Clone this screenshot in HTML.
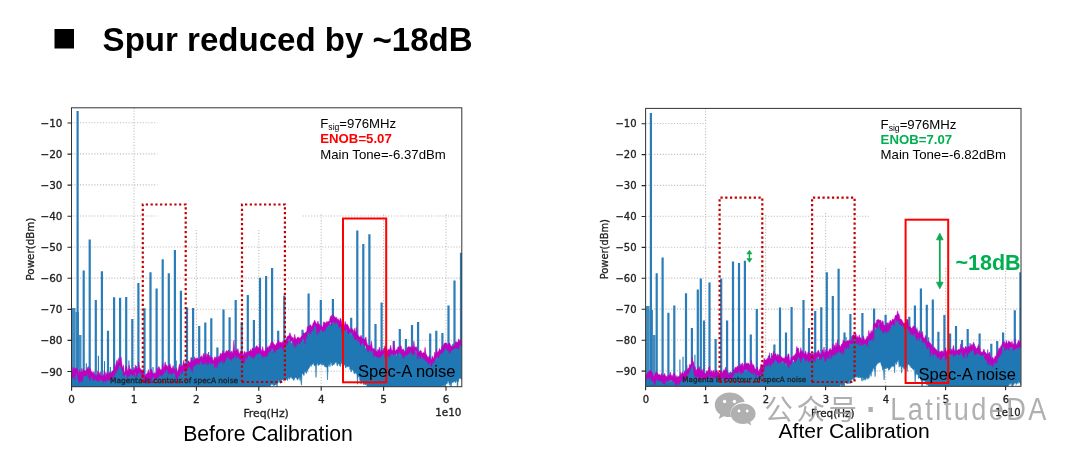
<!DOCTYPE html>
<html lang="en"><head><meta charset="utf-8"><title>Spur reduced by ~18dB</title>
<style>
html,body{margin:0;padding:0;background:#fff;}
body{width:1080px;height:453px;overflow:hidden;position:relative;font-family:"Liberation Sans",sans-serif;}
svg{position:absolute;left:0;top:0;}
.dj{font-family:"DejaVu Sans","Liberation Sans",sans-serif;font-size:9.7px;fill:#222;stroke:#222;stroke-width:0.3px;}
.ar{font-family:"Liberation Sans",sans-serif;fill:#000;}
</style></head><body>
<svg width="1080" height="453" viewBox="0 0 1080 453">
<rect width="1080" height="453" fill="#fff"/>
<defs></defs>
<rect x="54.5" y="29" width="19.5" height="19.5" fill="#000"/>
<text class="ar" x="102.6" y="50.8" style="font-size:33.05px;font-weight:bold">Spur reduced by ~18dB</text>
<clipPath id="clip1"><rect x="71.5" y="107.8" width="390.3" height="278.9"/></clipPath>
<g stroke="#bdbdbd" stroke-width="1.1" stroke-dasharray="1.1 1.75" fill="none"><line x1="71.5" y1="122.8" x2="157.3" y2="122.8"/><line x1="71.5" y1="153.9" x2="157.3" y2="153.9"/><line x1="71.5" y1="184.9" x2="157.3" y2="184.9"/><line x1="71.5" y1="216.0" x2="157.3" y2="216.0"/><line x1="302.6" y1="216.0" x2="461.8" y2="216.0"/><line x1="71.5" y1="247.0" x2="461.8" y2="247.0"/><line x1="71.5" y1="278.1" x2="461.8" y2="278.1"/><line x1="71.5" y1="309.2" x2="461.8" y2="309.2"/><line x1="71.5" y1="340.2" x2="461.8" y2="340.2"/><line x1="71.5" y1="371.3" x2="461.8" y2="371.3"/><line x1="134.0" y1="107.8" x2="134.0" y2="386.7"/><line x1="196.4" y1="230" x2="196.4" y2="386.7"/><line x1="258.8" y1="230" x2="258.8" y2="386.7"/><line x1="321.2" y1="214.6" x2="321.2" y2="386.7"/><line x1="383.6" y1="214.6" x2="383.6" y2="386.7"/><line x1="446.0" y1="214.6" x2="446.0" y2="386.7"/></g>
<g clip-path="url(#clip1)">
<path d="M71.5,378.0 L72.0,376.4 L72.5,376.9 L73.0,376.0 L73.5,375.0 L74.0,373.3 L74.5,372.6 L75.0,371.8 L75.5,369.8 L76.0,369.0 L76.5,369.7 L77.0,372.9 L77.5,374.8 L78.0,376.6 L78.5,377.6 L79.0,378.2 L79.5,378.6 L80.0,377.6 L80.5,377.9 L81.0,375.6 L81.5,375.4 L82.0,373.2 L82.5,372.2 L83.0,371.2 L83.5,371.4 L84.0,372.6 L84.5,374.1 L85.0,373.7 L85.5,372.7 L86.0,370.6 L86.5,371.2 L87.0,371.1 L87.5,371.3 L88.0,371.9 L88.5,372.9 L89.0,372.7 L89.5,372.6 L90.0,372.7 L90.5,373.1 L91.0,373.8 L91.5,373.6 L92.0,375.7 L92.5,376.1 L93.0,377.3 L93.5,376.2 L94.0,376.0 L94.5,374.5 L95.0,374.2 L95.5,374.6 L96.0,374.6 L96.5,376.2 L97.0,374.7 L97.5,377.0 L98.0,375.8 L98.5,377.9 L99.0,377.5 L99.5,377.0 L100.0,377.5 L100.5,378.6 L101.0,379.8 L101.5,378.8 L102.0,377.6 L102.5,377.1 L103.0,378.3 L103.5,378.2 L104.0,379.1 L104.5,377.8 L105.0,377.9 L105.5,377.2 L106.0,378.9 L106.5,379.5 L107.0,381.4 L107.5,380.6 L108.0,379.8 L108.5,378.3 L109.0,377.3 L109.5,377.3 L110.0,376.8 L110.5,376.5 L111.0,374.9 L111.5,374.0 L112.0,375.0 L112.5,375.1 L113.0,374.3 L113.5,372.6 L114.0,373.5 L114.5,372.4 L115.0,371.3 L115.5,369.0 L116.0,368.0 L116.5,368.0 L117.0,367.7 L117.5,368.4 L118.0,366.6 L118.5,366.2 L119.0,365.0 L119.5,364.7 L120.0,362.8 L120.5,361.5 L121.0,363.7 L121.5,365.7 L122.0,368.4 L122.5,368.8 L123.0,370.4 L123.5,371.2 L124.0,373.3 L124.5,374.2 L125.0,374.4 L125.5,373.8 L126.0,374.8 L126.5,375.3 L127.0,375.5 L127.5,374.0 L128.0,372.3 L128.5,372.6 L129.0,373.6 L129.5,374.5 L130.0,374.0 L130.5,373.8 L131.0,374.4 L131.5,374.5 L132.0,373.5 L132.5,373.9 L133.0,372.1 L133.5,373.0 L134.0,372.0 L134.5,373.6 L135.0,374.2 L135.5,374.9 L136.0,373.2 L136.5,370.3 L137.0,369.6 L137.5,369.6 L138.0,370.8 L138.5,370.7 L139.0,370.1 L139.5,369.0 L140.0,369.1 L140.5,371.0 L141.0,373.0 L141.5,373.3 L142.0,373.2 L142.5,372.8 L143.0,373.2 L143.5,373.6 L144.0,374.1 L144.5,375.1 L145.0,376.0 L145.5,377.5 L146.0,376.2 L146.5,375.6 L147.0,374.4 L147.5,374.3 L148.0,374.9 L148.5,374.9 L149.0,375.8 L149.5,375.8 L150.0,377.8 L150.5,376.3 L151.0,376.6 L151.5,374.9 L152.0,375.8 L152.5,373.9 L153.0,373.5 L153.5,373.9 L154.0,374.9 L154.5,375.2 L155.0,374.2 L155.5,375.1 L156.0,374.9 L156.5,373.3 L157.0,371.7 L157.5,370.1 L158.0,369.1 L158.5,369.0 L159.0,371.3 L159.5,373.6 L160.0,372.8 L160.5,370.8 L161.0,371.4 L161.5,372.2 L162.0,372.7 L162.5,371.5 L163.0,371.2 L163.5,371.5 L164.0,371.8 L164.5,371.6 L165.0,370.0 L165.5,369.7 L166.0,368.7 L166.5,370.2 L167.0,368.5 L167.5,368.7 L168.0,367.6 L168.5,367.3 L169.0,368.7 L169.5,370.2 L170.0,371.1 L170.5,370.7 L171.0,370.2 L171.5,368.8 L172.0,368.8 L172.5,368.7 L173.0,371.1 L173.5,370.4 L174.0,370.6 L174.5,370.7 L175.0,372.7 L175.5,373.5 L176.0,373.9 L176.5,374.2 L177.0,373.2 L177.5,372.6 L178.0,369.7 L178.5,371.0 L179.0,371.8 L179.5,373.6 L180.0,372.6 L180.5,371.6 L181.0,370.8 L181.5,369.8 L182.0,369.2 L182.5,368.8 L183.0,369.9 L183.5,370.1 L184.0,369.8 L184.5,367.8 L185.0,366.6 L185.5,367.6 L186.0,368.1 L186.5,368.4 L187.0,366.6 L187.5,365.0 L188.0,364.6 L188.5,365.3 L189.0,365.6 L189.5,365.1 L190.0,364.0 L190.5,364.1 L191.0,362.7 L191.5,362.4 L192.0,361.4 L192.5,363.0 L193.0,362.3 L193.5,363.1 L194.0,363.3 L194.5,363.4 L195.0,362.2 L195.5,361.0 L196.0,361.1 L196.5,360.6 L197.0,360.7 L197.5,362.1 L198.0,362.5 L198.5,361.8 L199.0,359.3 L199.5,359.6 L200.0,358.6 L200.5,358.4 L201.0,359.0 L201.5,359.1 L202.0,360.6 L202.5,360.6 L203.0,361.4 L203.5,360.8 L204.0,361.0 L204.5,360.4 L205.0,359.4 L205.5,356.7 L206.0,356.8 L206.5,358.7 L207.0,360.8 L207.5,360.4 L208.0,358.9 L208.5,358.0 L209.0,359.3 L209.5,360.1 L210.0,361.0 L210.5,361.3 L211.0,361.5 L211.5,361.6 L212.0,361.9 L212.5,362.4 L213.0,363.1 L213.5,364.5 L214.0,364.7 L214.5,364.0 L215.0,361.0 L215.5,360.5 L216.0,358.7 L216.5,358.6 L217.0,358.7 L217.5,360.4 L218.0,361.1 L218.5,358.8 L219.0,357.7 L219.5,357.0 L220.0,358.5 L220.5,360.3 L221.0,360.7 L221.5,359.3 L222.0,356.3 L222.5,355.8 L223.0,356.1 L223.5,356.0 L224.0,356.1 L224.5,355.2 L225.0,356.8 L225.5,357.5 L226.0,359.1 L226.5,357.7 L227.0,357.2 L227.5,356.2 L228.0,356.1 L228.5,355.4 L229.0,354.3 L229.5,353.4 L230.0,354.2 L230.5,354.9 L231.0,356.1 L231.5,356.2 L232.0,354.9 L232.5,354.0 L233.0,353.2 L233.5,354.8 L234.0,355.0 L234.5,355.5 L235.0,355.3 L235.5,354.5 L236.0,353.2 L236.5,353.8 L237.0,355.3 L237.5,354.8 L238.0,355.4 L238.5,355.7 L239.0,358.4 L239.5,357.2 L240.0,356.7 L240.5,355.0 L241.0,357.4 L241.5,357.7 L242.0,360.0 L242.5,357.7 L243.0,358.2 L243.5,355.3 L244.0,355.2 L244.5,355.5 L245.0,355.5 L245.5,356.3 L246.0,355.5 L246.5,355.3 L247.0,353.8 L247.5,352.8 L248.0,353.3 L248.5,352.9 L249.0,352.3 L249.5,351.8 L250.0,351.1 L250.5,350.5 L251.0,350.6 L251.5,351.9 L252.0,351.7 L252.5,351.6 L253.0,350.3 L253.5,350.7 L254.0,351.2 L254.5,351.2 L255.0,353.1 L255.5,351.7 L256.0,352.3 L256.5,350.9 L257.0,350.8 L257.5,350.9 L258.0,350.8 L258.5,351.8 L259.0,351.2 L259.5,350.4 L260.0,350.5 L260.5,351.3 L261.0,353.7 L261.5,353.8 L262.0,354.5 L262.5,352.1 L263.0,353.1 L263.5,351.9 L264.0,351.6 L264.5,350.7 L265.0,352.1 L265.5,352.1 L266.0,351.0 L266.5,349.2 L267.0,349.3 L267.5,350.1 L268.0,349.7 L268.5,349.8 L269.0,349.6 L269.5,349.4 L270.0,350.0 L270.5,348.5 L271.0,347.8 L271.5,345.8 L272.0,347.7 L272.5,348.1 L273.0,349.4 L273.5,347.8 L274.0,348.1 L274.5,347.8 L275.0,349.2 L275.5,348.2 L276.0,346.9 L276.5,344.5 L277.0,344.2 L277.5,345.9 L278.0,347.2 L278.5,347.4 L279.0,345.6 L279.5,344.6 L280.0,346.3 L280.5,345.1 L281.0,345.7 L281.5,343.7 L282.0,346.6 L282.5,345.2 L283.0,345.4 L283.5,343.0 L284.0,342.7 L284.5,343.7 L285.0,345.1 L285.5,345.2 L286.0,343.0 L286.5,340.5 L287.0,340.2 L287.5,340.4 L288.0,341.5 L288.5,341.3 L289.0,340.1 L289.5,339.7 L290.0,339.6 L290.5,341.6 L291.0,343.3 L291.5,343.4 L292.0,341.9 L292.5,340.6 L293.0,340.4 L293.5,340.6 L294.0,340.7 L294.5,340.6 L295.0,341.8 L295.5,341.9 L296.0,343.0 L296.5,342.6 L297.0,342.3 L297.5,341.5 L298.0,341.6 L298.5,341.9 L299.0,343.0 L299.5,342.5 L300.0,341.3 L300.5,340.5 L301.0,338.9 L301.5,338.8 L302.0,337.9 L302.5,336.7 L303.0,336.6 L303.5,336.3 L304.0,337.2 L304.5,336.2 L305.0,335.1 L305.5,333.9 L306.0,333.4 L306.5,332.6 L307.0,332.8 L307.5,331.5 L308.0,331.4 L308.5,330.8 L309.0,331.0 L309.5,329.9 L310.0,329.6 L310.5,327.8 L311.0,327.8 L311.5,327.0 L312.0,327.9 L312.5,327.2 L313.0,325.8 L313.5,324.8 L314.0,324.5 L314.5,325.6 L315.0,326.3 L315.5,324.8 L316.0,325.2 L316.5,326.2 L317.0,328.4 L317.5,328.4 L318.0,326.6 L318.5,326.8 L319.0,326.7 L319.5,326.2 L320.0,326.1 L320.5,325.3 L321.0,326.5 L321.5,326.0 L322.0,328.4 L322.5,329.3 L323.0,330.3 L323.5,330.2 L324.0,331.3 L324.5,330.6 L325.0,328.6 L325.5,325.9 L326.0,325.0 L326.5,325.1 L327.0,325.9 L327.5,326.1 L328.0,326.1 L328.5,324.7 L329.0,324.2 L329.5,323.5 L330.0,324.1 L330.5,324.5 L331.0,323.8 L331.5,322.7 L332.0,321.7 L332.5,320.2 L333.0,318.7 L333.5,318.6 L334.0,319.7 L334.5,321.5 L335.0,320.1 L335.5,320.3 L336.0,319.9 L336.5,320.9 L337.0,319.8 L337.5,320.4 L338.0,322.1 L338.5,324.5 L339.0,324.6 L339.5,324.3 L340.0,324.9 L340.5,323.6 L341.0,323.8 L341.5,323.9 L342.0,326.9 L342.5,328.6 L343.0,329.4 L343.5,329.4 L344.0,328.6 L344.5,328.6 L345.0,328.3 L345.5,328.3 L346.0,328.7 L346.5,331.0 L347.0,331.2 L347.5,330.7 L348.0,329.7 L348.5,331.2 L349.0,331.5 L349.5,332.8 L350.0,331.4 L350.5,331.6 L351.0,330.6 L351.5,332.3 L352.0,333.6 L352.5,333.0 L353.0,332.0 L353.5,331.8 L354.0,332.8 L354.5,332.7 L355.0,333.6 L355.5,334.8 L356.0,336.7 L356.5,335.9 L357.0,336.6 L357.5,336.4 L358.0,338.0 L358.5,336.9 L359.0,337.0 L359.5,336.8 L360.0,337.5 L360.5,339.3 L361.0,339.9 L361.5,340.3 L362.0,340.4 L362.5,340.5 L363.0,342.5 L363.5,342.5 L364.0,343.0 L364.5,343.7 L365.0,346.5 L365.5,349.0 L366.0,348.6 L366.5,347.5 L367.0,347.6 L367.5,347.9 L368.0,347.5 L368.5,346.8 L369.0,347.7 L369.5,348.3 L370.0,347.4 L370.5,346.4 L371.0,348.0 L371.5,349.2 L372.0,350.6 L372.5,350.7 L373.0,352.3 L373.5,352.6 L374.0,353.2 L374.5,352.5 L375.0,353.0 L375.5,352.3 L376.0,354.3 L376.5,355.0 L377.0,355.5 L377.5,354.1 L378.0,353.7 L378.5,354.6 L379.0,353.4 L379.5,352.5 L380.0,351.4 L380.5,354.3 L381.0,355.6 L381.5,355.6 L382.0,353.9 L382.5,354.5 L383.0,354.1 L383.5,353.0 L384.0,352.1 L384.5,352.6 L385.0,353.4 L385.5,352.2 L386.0,353.3 L386.5,354.2 L387.0,355.1 L387.5,354.2 L388.0,351.4 L388.5,351.5 L389.0,350.9 L389.5,352.9 L390.0,353.0 L390.5,352.9 L391.0,351.4 L391.5,351.2 L392.0,350.9 L392.5,352.0 L393.0,351.3 L393.5,351.7 L394.0,350.2 L394.5,351.6 L395.0,352.1 L395.5,354.8 L396.0,355.5 L396.5,355.3 L397.0,353.1 L397.5,350.9 L398.0,350.0 L398.5,351.1 L399.0,351.9 L399.5,351.3 L400.0,352.0 L400.5,350.8 L401.0,352.7 L401.5,352.4 L402.0,353.3 L402.5,353.1 L403.0,352.7 L403.5,352.2 L404.0,350.7 L404.5,350.9 L405.0,352.5 L405.5,355.1 L406.0,355.9 L406.5,354.7 L407.0,352.4 L407.5,352.3 L408.0,351.4 L408.5,351.6 L409.0,350.0 L409.5,349.9 L410.0,349.3 L410.5,349.2 L411.0,348.1 L411.5,347.9 L412.0,349.4 L412.5,350.6 L413.0,351.0 L413.5,350.0 L414.0,351.0 L414.5,350.6 L415.0,350.4 L415.5,350.9 L416.0,352.3 L416.5,352.9 L417.0,353.8 L417.5,353.4 L418.0,353.7 L418.5,352.4 L419.0,354.5 L419.5,353.2 L420.0,353.5 L420.5,352.2 L421.0,354.6 L421.5,355.9 L422.0,357.7 L422.5,356.3 L423.0,356.7 L423.5,355.7 L424.0,356.7 L424.5,356.8 L425.0,356.6 L425.5,355.8 L426.0,355.4 L426.5,355.2 L427.0,356.6 L427.5,357.5 L428.0,359.2 L428.5,361.2 L429.0,361.1 L429.5,359.9 L430.0,358.4 L430.5,358.1 L431.0,358.7 L431.5,359.9 L432.0,360.4 L432.5,360.1 L433.0,359.7 L433.5,359.5 L434.0,360.7 L434.5,359.6 L435.0,359.5 L435.5,358.7 L436.0,358.9 L436.5,358.2 L437.0,357.8 L437.5,356.5 L438.0,354.5 L438.5,353.4 L439.0,352.3 L439.5,353.0 L440.0,351.4 L440.5,352.1 L441.0,351.3 L441.5,350.6 L442.0,347.3 L442.5,346.3 L443.0,346.4 L443.5,346.4 L444.0,345.9 L444.5,344.7 L445.0,345.0 L445.5,343.6 L446.0,344.4 L446.5,345.0 L447.0,347.9 L447.5,347.5 L448.0,346.7 L448.5,344.4 L449.0,346.2 L449.5,346.0 L450.0,346.6 L450.5,346.3 L451.0,346.7 L451.5,346.1 L452.0,345.5 L452.5,344.4 L453.0,343.8 L453.5,343.6 L454.0,345.1 L454.5,345.8 L455.0,344.5 L455.5,343.8 L456.0,344.3 L456.5,345.8 L457.0,345.9 L457.5,344.3 L458.0,344.1 L458.5,343.5 L459.0,343.0 L459.5,341.7 L460.0,343.0 L460.5,343.8 L461.0,345.1 L461.5,343.3 L461.5,379.6 L461.0,378.7 L460.5,378.1 L460.0,378.7 L459.5,377.8 L459.0,378.7 L458.5,381.6 L458.0,381.0 L457.5,393.6 L457.0,380.8 L456.5,381.0 L456.0,380.6 L455.5,382.9 L455.0,380.7 L454.5,381.6 L454.0,381.4 L453.5,381.6 L453.0,382.8 L452.5,382.1 L452.0,382.6 L451.5,382.9 L451.0,390.3 L450.5,383.9 L450.0,383.3 L449.5,385.1 L449.0,383.2 L448.5,381.1 L448.0,381.1 L447.5,381.9 L447.0,383.8 L446.5,382.9 L446.0,384.6 L445.5,385.0 L445.0,388.6 L444.5,385.7 L444.0,384.5 L443.5,386.8 L443.0,385.4 L442.5,385.4 L442.0,386.3 L441.5,388.7 L441.0,388.6 L440.5,389.4 L440.0,390.6 L439.5,391.6 L439.0,392.5 L438.5,393.8 L438.0,394.9 L437.5,394.4 L437.0,394.7 L436.5,395.5 L436.0,396.2 L435.5,396.1 L435.0,395.5 L434.5,394.4 L434.0,394.3 L433.5,395.3 L433.0,395.6 L432.5,396.5 L432.0,396.0 L431.5,396.2 L431.0,396.0 L430.5,395.4 L430.0,393.4 L429.5,392.4 L429.0,392.2 L428.5,393.0 L428.0,396.1 L427.5,397.1 L427.0,397.9 L426.5,396.7 L426.0,395.1 L425.5,393.8 L425.0,392.8 L424.5,393.4 L424.0,393.8 L423.5,394.7 L423.0,394.6 L422.5,394.0 L422.0,393.7 L421.5,393.8 L421.0,394.7 L420.5,396.6 L420.0,396.5 L419.5,396.4 L419.0,396.8 L418.5,396.4 L418.0,396.4 L417.5,396.0 L417.0,396.3 L416.5,395.2 L416.0,395.0 L415.5,395.2 L415.0,394.8 L414.5,395.4 L414.0,395.7 L413.5,395.6 L413.0,395.1 L412.5,395.3 L412.0,395.4 L411.5,395.9 L411.0,395.6 L410.5,394.8 L410.0,394.6 L409.5,393.9 L409.0,394.3 L408.5,394.4 L408.0,394.8 L407.5,395.4 L407.0,395.6 L406.5,394.9 L406.0,394.8 L405.5,392.4 L405.0,392.0 L404.5,392.9 L404.0,393.0 L403.5,394.9 L403.0,394.8 L402.5,394.6 L402.0,394.1 L401.5,393.9 L401.0,394.9 L400.5,394.7 L400.0,395.5 L399.5,395.3 L399.0,395.3 L398.5,396.3 L398.0,395.3 L397.5,395.7 L397.0,395.6 L396.5,394.6 L396.0,395.0 L395.5,395.0 L395.0,394.4 L394.5,394.5 L394.0,393.8 L393.5,394.4 L393.0,394.9 L392.5,395.5 L392.0,396.1 L391.5,395.2 L391.0,394.8 L390.5,394.4 L390.0,394.5 L389.5,394.8 L389.0,395.4 L388.5,395.2 L388.0,395.6 L387.5,395.0 L387.0,394.4 L386.5,394.5 L386.0,393.9 L385.5,393.8 L385.0,394.1 L384.5,394.1 L384.0,394.3 L383.5,395.4 L383.0,395.6 L382.5,396.6 L382.0,397.6 L381.5,396.6 L381.0,395.4 L380.5,394.0 L380.0,393.1 L379.5,393.6 L379.0,394.1 L378.5,394.4 L378.0,395.1 L377.5,394.5 L377.0,395.7 L376.5,396.2 L376.0,396.0 L375.5,396.5 L375.0,396.4 L374.5,396.8 L374.0,396.0 L373.5,396.5 L373.0,395.6 L372.5,394.5 L372.0,395.1 L371.5,394.1 L371.0,393.5 L370.5,391.9 L370.0,392.2 L369.5,390.8 L369.0,389.9 L368.5,386.2 L368.0,387.4 L367.5,387.7 L367.0,386.3 L366.5,383.6 L366.0,384.4 L365.5,385.0 L365.0,383.7 L364.5,384.4 L364.0,383.5 L363.5,384.5 L363.0,381.5 L362.5,380.9 L362.0,382.3 L361.5,381.4 L361.0,384.1 L360.5,380.2 L360.0,381.2 L359.5,377.4 L359.0,376.2 L358.5,376.8 L358.0,375.6 L357.5,384.2 L357.0,375.0 L356.5,373.5 L356.0,372.5 L355.5,373.3 L355.0,371.9 L354.5,374.1 L354.0,373.0 L353.5,370.6 L353.0,370.5 L352.5,370.2 L352.0,368.5 L351.5,370.9 L351.0,372.1 L350.5,368.2 L350.0,369.7 L349.5,365.8 L349.0,366.4 L348.5,366.7 L348.0,365.8 L347.5,366.6 L347.0,367.2 L346.5,365.3 L346.0,367.5 L345.5,368.1 L345.0,365.2 L344.5,363.9 L344.0,365.3 L343.5,363.0 L343.0,364.6 L342.5,364.7 L342.0,360.7 L341.5,363.5 L341.0,363.2 L340.5,366.5 L340.0,366.2 L339.5,365.5 L339.0,362.9 L338.5,364.1 L338.0,362.7 L337.5,365.9 L337.0,365.5 L336.5,362.3 L336.0,361.7 L335.5,362.7 L335.0,361.7 L334.5,364.2 L334.0,364.4 L333.5,364.4 L333.0,364.3 L332.5,365.9 L332.0,365.2 L331.5,363.6 L331.0,362.6 L330.5,362.0 L330.0,366.7 L329.5,363.9 L329.0,364.8 L328.5,365.1 L328.0,367.4 L327.5,379.9 L327.0,366.9 L326.5,367.0 L326.0,366.8 L325.5,366.7 L325.0,366.7 L324.5,366.3 L324.0,364.7 L323.5,364.3 L323.0,365.2 L322.5,365.1 L322.0,362.6 L321.5,365.0 L321.0,363.4 L320.5,363.6 L320.0,364.5 L319.5,364.4 L319.0,364.5 L318.5,365.7 L318.0,363.7 L317.5,362.6 L317.0,365.1 L316.5,364.3 L316.0,377.4 L315.5,363.9 L315.0,366.1 L314.5,365.6 L314.0,365.2 L313.5,361.7 L313.0,363.7 L312.5,364.4 L312.0,363.8 L311.5,365.6 L311.0,366.6 L310.5,364.8 L310.0,365.6 L309.5,367.3 L309.0,368.1 L308.5,369.0 L308.0,369.1 L307.5,371.3 L307.0,370.3 L306.5,373.5 L306.0,370.6 L305.5,372.6 L305.0,371.6 L304.5,371.4 L304.0,375.5 L303.5,374.4 L303.0,374.2 L302.5,373.5 L302.0,373.2 L301.5,385.2 L301.0,382.4 L300.5,376.2 L300.0,380.5 L299.5,377.1 L299.0,377.7 L298.5,377.9 L298.0,379.3 L297.5,380.1 L297.0,379.1 L296.5,377.4 L296.0,377.7 L295.5,377.6 L295.0,378.1 L294.5,378.2 L294.0,380.5 L293.5,380.1 L293.0,378.2 L292.5,379.1 L292.0,378.5 L291.5,376.7 L291.0,377.4 L290.5,377.1 L290.0,377.9 L289.5,379.2 L289.0,376.6 L288.5,378.2 L288.0,377.9 L287.5,380.5 L287.0,379.7 L286.5,378.3 L286.0,379.5 L285.5,376.9 L285.0,380.2 L284.5,379.4 L284.0,379.1 L283.5,380.5 L283.0,379.1 L282.5,379.8 L282.0,380.0 L281.5,380.5 L281.0,381.3 L280.5,383.4 L280.0,382.8 L279.5,382.3 L279.0,380.6 L278.5,379.9 L278.0,383.3 L277.5,383.1 L277.0,387.5 L276.5,384.0 L276.0,383.8 L275.5,384.9 L275.0,385.0 L274.5,384.9 L274.0,385.9 L273.5,384.8 L273.0,385.3 L272.5,384.2 L272.0,383.7 L271.5,383.9 L271.0,385.2 L270.5,384.6 L270.0,388.9 L269.5,387.4 L269.0,387.1 L268.5,388.7 L268.0,385.1 L267.5,386.5 L267.0,386.5 L266.5,386.6 L266.0,390.9 L265.5,389.3 L265.0,389.9 L264.5,390.6 L264.0,392.2 L263.5,392.4 L263.0,392.7 L262.5,394.0 L262.0,395.2 L261.5,395.4 L261.0,396.3 L260.5,397.1 L260.0,396.0 L259.5,394.9 L259.0,394.2 L258.5,394.3 L258.0,395.4 L257.5,395.8 L257.0,395.8 L256.5,395.0 L256.0,394.7 L255.5,395.3 L255.0,394.3 L254.5,394.8 L254.0,394.1 L253.5,393.4 L253.0,394.0 L252.5,393.4 L252.0,394.2 L251.5,394.4 L251.0,394.6 L250.5,395.0 L250.0,394.5 L249.5,394.5 L249.0,393.9 L248.5,393.8 L248.0,393.7 L247.5,393.0 L247.0,393.7 L246.5,395.0 L246.0,395.4 L245.5,396.6 L245.0,395.9 L244.5,394.5 L244.0,394.2 L243.5,394.7 L243.0,396.3 L242.5,396.6 L242.0,397.2 L241.5,396.5 L241.0,395.0 L240.5,395.1 L240.0,395.7 L239.5,395.2 L239.0,395.8 L238.5,395.3 L238.0,394.8 L237.5,395.6 L237.0,395.5 L236.5,395.3 L236.0,395.4 L235.5,394.5 L235.0,393.9 L234.5,394.2 L234.0,393.0 L233.5,393.3 L233.0,393.6 L232.5,393.0 L232.0,393.5 L231.5,394.4 L231.0,395.5 L230.5,395.7 L230.0,395.5 L229.5,395.4 L229.0,395.2 L228.5,395.5 L228.0,396.2 L227.5,395.9 L227.0,394.6 L226.5,394.5 L226.0,394.6 L225.5,394.2 L225.0,395.0 L224.5,395.5 L224.0,394.8 L223.5,394.8 L223.0,394.3 L222.5,394.2 L222.0,394.5 L221.5,394.5 L221.0,394.0 L220.5,394.5 L220.0,395.0 L219.5,394.7 L219.0,395.5 L218.5,394.4 L218.0,393.9 L217.5,394.2 L217.0,394.5 L216.5,394.1 L216.0,394.1 L215.5,393.6 L215.0,394.2 L214.5,395.4 L214.0,395.5 L213.5,395.9 L213.0,396.2 L212.5,395.2 L212.0,395.6 L211.5,395.3 L211.0,395.5 L210.5,396.0 L210.0,396.3 L209.5,396.9 L209.0,396.0 L208.5,396.0 L208.0,395.4 L207.5,396.4 L207.0,396.2 L206.5,396.5 L206.0,397.0 L205.5,396.9 L205.0,396.6 L204.5,396.3 L204.0,395.4 L203.5,394.3 L203.0,394.4 L202.5,394.0 L202.0,394.4 L201.5,394.3 L201.0,394.5 L200.5,395.0 L200.0,395.4 L199.5,395.5 L199.0,395.6 L198.5,395.5 L198.0,394.8 L197.5,395.2 L197.0,395.0 L196.5,395.7 L196.0,396.4 L195.5,396.1 L195.0,397.1 L194.5,395.7 L194.0,395.0 L193.5,395.1 L193.0,394.7 L192.5,394.2 L192.0,394.3 L191.5,394.0 L191.0,393.2 L190.5,394.5 L190.0,394.9 L189.5,394.6 L189.0,396.0 L188.5,396.2 L188.0,396.1 L187.5,395.9 L187.0,395.5 L186.5,395.2 L186.0,396.2 L185.5,396.5 L185.0,395.7 L184.5,394.9 L184.0,393.7 L183.5,394.9 L183.0,395.1 L182.5,395.7 L182.0,396.3 L181.5,395.3 L181.0,396.3 L180.5,396.1 L180.0,396.1 L179.5,396.2 L179.0,395.5 L178.5,395.9 L178.0,395.7 L177.5,395.9 L177.0,396.2 L176.5,396.6 L176.0,396.4 L175.5,396.6 L175.0,396.3 L174.5,396.2 L174.0,395.7 L173.5,395.0 L173.0,395.6 L172.5,395.6 L172.0,396.7 L171.5,396.9 L171.0,395.6 L170.5,395.3 L170.0,394.1 L169.5,393.4 L169.0,393.6 L168.5,393.3 L168.0,394.2 L167.5,394.3 L167.0,394.7 L166.5,394.7 L166.0,394.2 L165.5,394.6 L165.0,393.4 L164.5,393.8 L164.0,393.6 L163.5,393.8 L163.0,394.9 L162.5,394.3 L162.0,394.5 L161.5,395.1 L161.0,395.6 L160.5,395.3 L160.0,395.9 L159.5,394.9 L159.0,394.5 L158.5,396.3 L158.0,396.0 L157.5,396.5 L157.0,397.3 L156.5,396.0 L156.0,395.5 L155.5,396.0 L155.0,394.6 L154.5,395.3 L154.0,395.5 L153.5,395.6 L153.0,396.1 L152.5,395.7 L152.0,395.5 L151.5,395.7 L151.0,394.8 L150.5,394.7 L150.0,395.5 L149.5,394.0 L149.0,394.2 L148.5,394.6 L148.0,393.1 L147.5,393.8 L147.0,394.2 L146.5,393.3 L146.0,393.8 L145.5,392.9 L145.0,392.9 L144.5,393.1 L144.0,394.3 L143.5,393.9 L143.0,393.5 L142.5,394.4 L142.0,393.4 L141.5,394.2 L141.0,395.2 L140.5,395.0 L140.0,395.9 L139.5,396.4 L139.0,395.1 L138.5,395.2 L138.0,395.4 L137.5,395.2 L137.0,396.1 L136.5,395.4 L136.0,394.6 L135.5,394.0 L135.0,393.9 L134.5,394.8 L134.0,394.6 L133.5,394.9 L133.0,395.6 L132.5,395.2 L132.0,395.0 L131.5,395.5 L131.0,395.7 L130.5,395.9 L130.0,396.2 L129.5,396.0 L129.0,396.3 L128.5,395.5 L128.0,396.3 L127.5,395.6 L127.0,393.7 L126.5,394.0 L126.0,393.1 L125.5,394.4 L125.0,395.5 L124.5,396.1 L124.0,397.1 L123.5,395.7 L123.0,394.9 L122.5,395.2 L122.0,395.2 L121.5,395.6 L121.0,395.8 L120.5,394.6 L120.0,393.6 L119.5,395.2 L119.0,395.0 L118.5,394.9 L118.0,395.8 L117.5,394.5 L117.0,395.2 L116.5,394.7 L116.0,394.7 L115.5,394.5 L115.0,394.5 L114.5,394.2 L114.0,393.9 L113.5,393.8 L113.0,393.8 L112.5,394.9 L112.0,393.8 L111.5,394.3 L111.0,394.2 L110.5,394.5 L110.0,395.0 L109.5,395.2 L109.0,394.9 L108.5,394.1 L108.0,394.8 L107.5,394.5 L107.0,395.4 L106.5,395.8 L106.0,396.4 L105.5,396.9 L105.0,396.3 L104.5,396.8 L104.0,396.4 L103.5,396.3 L103.0,396.4 L102.5,395.5 L102.0,395.1 L101.5,395.2 L101.0,394.0 L100.5,394.6 L100.0,394.4 L99.5,393.3 L99.0,393.9 L98.5,393.9 L98.0,394.7 L97.5,395.1 L97.0,395.1 L96.5,394.1 L96.0,393.2 L95.5,393.0 L95.0,393.2 L94.5,393.2 L94.0,394.0 L93.5,393.1 L93.0,393.5 L92.5,394.0 L92.0,393.6 L91.5,394.4 L91.0,393.7 L90.5,393.1 L90.0,392.5 L89.5,393.1 L89.0,393.6 L88.5,394.9 L88.0,396.4 L87.5,395.4 L87.0,396.3 L86.5,395.8 L86.0,394.6 L85.5,394.9 L85.0,394.1 L84.5,394.2 L84.0,394.7 L83.5,394.6 L83.0,394.1 L82.5,394.2 L82.0,394.0 L81.5,394.3 L81.0,394.7 L80.5,394.3 L80.0,394.9 L79.5,393.9 L79.0,394.0 L78.5,394.2 L78.0,393.7 L77.5,394.1 L77.0,394.5 L76.5,394.7 L76.0,395.4 L75.5,396.3 L75.0,397.0 L74.5,397.0 L74.0,396.6 L73.5,396.4 L73.0,395.1 L72.5,394.7 L72.0,394.2 L71.5,395.3Z" fill="#1f77b4" stroke="#1f77b4" stroke-width="0.6" stroke-linejoin="round"/>
<rect x="72" y="308" width="3.5" height="78.69999999999999" fill="#1f77b4" opacity="0.85"/>
<rect x="75.5" y="312" width="3.5" height="74.69999999999999" fill="#1f77b4" opacity="0.85"/>
<rect x="79" y="335" width="2.5" height="51.69999999999999" fill="#1f77b4" opacity="0.85"/>
<path d="M77.6,377.5V111.0M83.7,377.2V270.4M89.7,376.8V239.5M95.8,380.3V300.0M101.9,381.5V271.3M108.0,383.1V330.7M114.1,376.4V297.3M120.1,367.5V297.7M126.2,377.4V297.0M132.3,375.9V319.0M138.4,374.4V283.0M144.5,380.2V308.3M150.5,379.1V272.3M156.6,377.6V288.6M162.7,374.8V259.3M168.8,371.8V273.2M174.9,375.6V250.0M180.9,373.5V290.8M187.0,369.9V307.5M193.1,366.3V308.0M199.2,363.9V326.0M205.3,361.9V322.4M211.3,365.1V318.3M217.4,363.9V347.4M223.5,360.6V309.4M229.6,359.3V317.2M235.7,358.1V300.0M241.7,360.3V322.0M247.8,357.7V295.0M253.9,355.4V320.0M260.0,354.9V277.8M266.1,355.6V276.0M272.1,352.0V268.0M278.2,350.4V330.7M284.3,348.2V295.4M302.5,342.5V329.8M308.6,334.8V293.6M320.8,331.8V300.0M332.9,324.0V299.0M351.2,335.3V317.8M357.3,339.5V230.6M363.3,345.8V244.0M369.4,351.9V234.3M375.5,357.5V324.0M381.6,356.4V302.5M393.7,356.2V341.0M399.8,356.7V329.0M405.9,355.5V339.0M412.0,352.3V325.0M418.1,356.5V322.0M430.2,364.0V333.5M436.3,360.6V330.7M442.4,352.4V333.0M448.5,349.7V305.6M454.5,349.6V280.6M461.0,346.4V252.8" stroke="#2a7db8" stroke-width="2.2" fill="none"/>
<path d="M86.3,374.8V363.2M98.4,380.8V355.8M104.5,382.4V361.3M110.4,380.6V366.9M116.9,372.2V361.3M128.9,376.7V360.4M136.4,374.9V366.0M153.0,378.5V366.9M176.2,376.4V360.4M191.0,367.5V357.6M208.6,363.4V352.0" stroke="#1f77b4" stroke-width="1.1" fill="none"/>
<path d="M71.5,375.1 L72.3,371.1 L73.1,367.1 L73.9,369.3 L74.7,368.8 L75.5,368.3 L76.3,367.9 L77.1,368.5 L77.9,371.0 L78.7,376.4 L79.5,369.7 L80.3,372.8 L81.1,371.9 L81.9,368.2 L82.7,373.0 L83.5,369.3 L84.3,370.0 L85.1,371.2 L85.9,371.0 L86.7,369.4 L87.5,367.8 L88.3,366.5 L89.1,369.7 L89.9,367.8 L90.7,369.8 L91.5,372.1 L92.3,371.8 L93.1,373.8 L93.9,371.4 L94.7,374.4 L95.5,375.7 L96.3,376.8 L97.1,374.8 L97.9,370.8 L98.7,375.2 L99.5,372.9 L100.3,371.8 L101.1,376.5 L101.9,375.8 L102.7,375.7 L103.5,374.9 L104.3,370.7 L105.1,376.8 L105.9,372.1 L106.7,374.5 L107.5,373.2 L108.3,377.1 L109.1,372.0 L109.9,372.9 L110.7,373.6 L111.5,371.9 L112.3,370.8 L113.1,371.1 L113.9,370.1 L114.7,363.9 L115.5,367.5 L116.3,363.0 L117.1,359.7 L117.9,364.0 L118.7,357.9 L119.5,360.4 L120.3,359.3 L121.1,357.1 L121.9,364.5 L122.7,368.3 L123.5,364.9 L124.3,372.5 L125.1,371.7 L125.9,365.9 L126.7,367.1 L127.5,370.5 L128.3,371.3 L129.1,365.1 L129.9,369.3 L130.7,368.9 L131.5,369.6 L132.3,371.5 L133.1,369.9 L133.9,367.4 L134.7,369.9 L135.5,364.9 L136.3,368.9 L137.1,367.9 L137.9,368.9 L138.7,362.0 L139.5,367.7 L140.3,368.6 L141.1,370.2 L141.9,369.4 L142.7,373.0 L143.5,368.8 L144.3,375.7 L145.1,375.9 L145.9,374.4 L146.7,373.6 L147.5,373.0 L148.3,369.5 L149.1,373.3 L149.9,372.5 L150.7,369.7 L151.5,368.8 L152.3,372.0 L153.1,373.6 L153.9,373.9 L154.7,372.5 L155.5,373.9 L156.3,371.6 L157.1,367.7 L157.9,370.7 L158.7,366.4 L159.5,367.6 L160.3,369.5 L161.1,369.9 L161.9,369.8 L162.7,363.4 L163.5,369.0 L164.3,366.0 L165.1,361.9 L165.9,365.1 L166.7,365.2 L167.5,366.7 L168.3,366.4 L169.1,365.8 L169.9,363.5 L170.7,366.6 L171.5,368.5 L172.3,368.5 L173.1,365.6 L173.9,368.4 L174.7,369.0 L175.5,371.9 L176.3,367.8 L177.1,372.8 L177.9,372.1 L178.7,367.6 L179.5,364.1 L180.3,366.4 L181.1,365.9 L181.9,365.9 L182.7,365.1 L183.5,360.4 L184.3,364.7 L185.1,362.2 L185.9,363.4 L186.7,364.5 L187.5,363.8 L188.3,360.8 L189.1,361.5 L189.9,362.3 L190.7,362.4 L191.5,357.4 L192.3,360.2 L193.1,361.3 L193.9,360.4 L194.7,356.8 L195.5,359.0 L196.3,358.8 L197.1,357.6 L197.9,358.7 L198.7,358.9 L199.5,359.8 L200.3,356.8 L201.1,356.9 L201.9,355.4 L202.7,358.4 L203.5,353.6 L204.3,353.6 L205.1,358.1 L205.9,353.3 L206.7,357.8 L207.5,353.8 L208.3,354.7 L209.1,357.5 L209.9,355.1 L210.7,357.8 L211.5,357.1 L212.3,357.4 L213.1,360.7 L213.9,359.5 L214.7,356.7 L215.5,358.3 L216.3,356.5 L217.1,359.3 L217.9,358.8 L218.7,356.2 L219.5,357.0 L220.3,353.5 L221.1,353.3 L221.9,355.1 L222.7,350.7 L223.5,353.2 L224.3,353.1 L225.1,353.4 L225.9,351.3 L226.7,350.6 L227.5,351.7 L228.3,349.9 L229.1,351.1 L229.9,352.5 L230.7,353.0 L231.5,350.9 L232.3,353.5 L233.1,350.0 L233.9,340.3 L234.7,350.9 L235.5,351.8 L236.3,349.5 L237.1,351.1 L237.9,348.6 L238.7,352.2 L239.5,354.2 L240.3,351.4 L241.1,351.2 L241.9,352.9 L242.7,354.8 L243.5,354.4 L244.3,351.5 L245.1,351.7 L245.9,353.9 L246.7,352.1 L247.5,352.2 L248.3,352.1 L249.1,351.0 L249.9,352.0 L250.7,349.4 L251.5,351.8 L252.3,348.1 L253.1,348.0 L253.9,348.8 L254.7,349.5 L255.5,347.2 L256.3,345.8 L257.1,345.9 L257.9,347.8 L258.7,347.9 L259.5,345.4 L260.3,347.7 L261.1,349.9 L261.9,351.4 L262.7,346.6 L263.5,351.0 L264.3,351.8 L265.1,351.2 L265.9,348.4 L266.7,348.3 L267.5,346.7 L268.3,348.6 L269.1,345.6 L269.9,346.4 L270.7,343.3 L271.5,341.8 L272.3,342.1 L273.1,342.3 L273.9,344.5 L274.7,344.6 L275.5,346.1 L276.3,343.5 L277.1,344.0 L277.9,340.6 L278.7,340.7 L279.5,342.6 L280.3,342.6 L281.1,342.1 L281.9,343.4 L282.7,341.3 L283.5,342.5 L284.3,341.2 L285.1,340.5 L285.9,340.0 L286.7,337.4 L287.5,336.2 L288.3,335.9 L289.1,335.6 L289.9,332.7 L290.7,334.9 L291.5,337.0 L292.3,337.6 L293.1,337.2 L293.9,339.9 L294.7,334.3 L295.5,338.1 L296.3,339.6 L297.1,337.9 L297.9,336.9 L298.7,337.4 L299.5,338.1 L300.3,337.9 L301.1,336.6 L301.9,336.0 L302.7,335.5 L303.5,332.6 L304.3,333.3 L305.1,332.7 L305.9,332.3 L306.7,331.3 L307.5,326.6 L308.3,326.5 L309.1,326.4 L309.9,324.6 L310.7,325.1 L311.5,326.4 L312.3,326.0 L313.1,323.1 L313.9,322.1 L314.7,320.1 L315.5,322.0 L316.3,323.4 L317.1,324.0 L317.9,320.9 L318.7,324.1 L319.5,324.5 L320.3,325.9 L321.1,325.4 L321.9,327.1 L322.7,327.1 L323.5,321.9 L324.3,321.9 L325.1,323.2 L325.9,322.9 L326.7,321.4 L327.5,322.2 L328.3,321.0 L329.1,321.9 L329.9,318.5 L330.7,316.1 L331.5,315.5 L332.3,317.8 L333.1,314.3 L333.9,317.9 L334.7,316.3 L335.5,318.3 L336.3,317.0 L337.1,319.8 L337.9,318.5 L338.7,319.9 L339.5,321.2 L340.3,318.2 L341.1,319.3 L341.9,324.4 L342.7,322.9 L343.5,323.2 L344.3,325.9 L345.1,321.4 L345.9,323.7 L346.7,324.8 L347.5,324.3 L348.3,326.0 L349.1,327.8 L349.9,329.4 L350.7,329.6 L351.5,327.8 L352.3,328.9 L353.1,329.7 L353.9,332.2 L354.7,328.2 L355.5,332.9 L356.3,327.4 L357.1,333.4 L357.9,335.1 L358.7,335.9 L359.5,338.1 L360.3,337.1 L361.1,335.2 L361.9,337.7 L362.7,338.3 L363.5,340.2 L364.3,338.9 L365.1,339.1 L365.9,336.9 L366.7,342.0 L367.5,344.8 L368.3,345.8 L369.1,345.0 L369.9,346.7 L370.7,345.2 L371.5,341.1 L372.3,347.7 L373.1,349.2 L373.9,348.0 L374.7,350.1 L375.5,350.6 L376.3,350.7 L377.1,352.2 L377.9,349.4 L378.7,350.2 L379.5,347.0 L380.3,351.3 L381.1,352.1 L381.9,349.5 L382.7,351.5 L383.5,348.9 L384.3,347.5 L385.1,345.5 L385.9,348.4 L386.7,348.0 L387.5,351.6 L388.3,349.2 L389.1,349.9 L389.9,348.4 L390.7,345.2 L391.5,350.1 L392.3,350.2 L393.1,350.9 L393.9,341.4 L394.7,348.5 L395.5,351.6 L396.3,349.5 L397.1,350.2 L397.9,347.1 L398.7,346.8 L399.5,348.8 L400.3,345.8 L401.1,345.8 L401.9,349.7 L402.7,349.6 L403.5,348.8 L404.3,352.4 L405.1,351.5 L405.9,351.1 L406.7,349.7 L407.5,347.2 L408.3,347.0 L409.1,346.3 L409.9,347.4 L410.7,346.8 L411.5,348.6 L412.3,346.4 L413.1,347.2 L413.9,341.1 L414.7,347.8 L415.5,347.1 L416.3,346.5 L417.1,348.7 L417.9,351.9 L418.7,351.5 L419.5,351.8 L420.3,350.2 L421.1,350.7 L421.9,353.0 L422.7,353.3 L423.5,352.4 L424.3,352.9 L425.1,347.3 L425.9,353.5 L426.7,355.6 L427.5,357.1 L428.3,357.7 L429.1,355.8 L429.9,356.6 L430.7,359.1 L431.5,359.9 L432.3,355.9 L433.1,358.3 L433.9,357.4 L434.7,352.2 L435.5,354.9 L436.3,349.3 L437.1,352.5 L437.9,351.7 L438.7,351.2 L439.5,348.5 L440.3,350.1 L441.1,350.2 L441.9,346.5 L442.7,345.8 L443.5,345.2 L444.3,343.3 L445.1,343.2 L445.9,342.6 L446.7,343.3 L447.5,345.5 L448.3,343.4 L449.1,342.8 L449.9,343.4 L450.7,345.8 L451.5,346.8 L452.3,347.4 L453.1,346.0 L453.9,346.0 L454.7,344.8 L455.5,341.8 L456.3,341.7 L457.1,342.6 L457.9,341.8 L458.7,338.8 L459.5,341.0 L460.3,339.8 L461.1,341.2 L461.1,344.4 L460.3,345.6 L459.5,345.9 L458.7,349.0 L457.9,348.5 L457.1,347.5 L456.3,349.1 L455.5,347.6 L454.7,348.4 L453.9,348.9 L453.1,348.9 L452.3,350.2 L451.5,349.9 L450.7,350.9 L449.9,353.4 L449.1,352.6 L448.3,349.5 L447.5,350.5 L446.7,348.7 L445.9,346.9 L445.1,348.6 L444.3,350.6 L443.5,351.2 L442.7,353.3 L441.9,351.7 L441.1,353.7 L440.3,353.5 L439.5,355.0 L438.7,358.2 L437.9,356.0 L437.1,357.1 L436.3,358.0 L435.5,358.6 L434.7,360.6 L433.9,362.9 L433.1,362.3 L432.3,362.4 L431.5,366.9 L430.7,363.5 L429.9,360.7 L429.1,364.5 L428.3,363.9 L427.5,361.1 L426.7,362.2 L425.9,358.5 L425.1,361.0 L424.3,356.7 L423.5,359.4 L422.7,356.9 L421.9,357.8 L421.1,355.1 L420.3,358.7 L419.5,356.2 L418.7,354.8 L417.9,359.2 L417.1,354.4 L416.3,351.6 L415.5,350.4 L414.7,350.9 L413.9,355.3 L413.1,353.9 L412.3,354.8 L411.5,352.0 L410.7,350.7 L409.9,353.7 L409.1,353.2 L408.3,353.0 L407.5,354.9 L406.7,355.1 L405.9,355.3 L405.1,355.8 L404.3,356.1 L403.5,358.5 L402.7,356.2 L401.9,354.0 L401.1,354.5 L400.3,351.9 L399.5,352.5 L398.7,352.6 L397.9,354.2 L397.1,354.5 L396.3,353.1 L395.5,354.8 L394.7,354.3 L393.9,355.5 L393.1,354.0 L392.3,353.5 L391.5,353.2 L390.7,354.9 L389.9,354.6 L389.1,358.2 L388.3,353.9 L387.5,356.1 L386.7,356.1 L385.9,357.8 L385.1,358.5 L384.3,352.9 L383.5,353.6 L382.7,354.3 L381.9,356.6 L381.1,355.6 L380.3,357.6 L379.5,357.5 L378.7,357.1 L377.9,357.3 L377.1,356.4 L376.3,357.1 L375.5,355.4 L374.7,355.3 L373.9,357.0 L373.1,352.0 L372.3,350.4 L371.5,351.3 L370.7,351.3 L369.9,349.6 L369.1,350.0 L368.3,352.2 L367.5,350.8 L366.7,348.8 L365.9,346.5 L365.1,345.6 L364.3,346.2 L363.5,343.2 L362.7,342.6 L361.9,343.4 L361.1,343.6 L360.3,345.9 L359.5,340.1 L358.7,340.5 L357.9,341.5 L357.1,338.7 L356.3,338.8 L355.5,340.1 L354.7,339.2 L353.9,336.2 L353.1,336.2 L352.3,332.1 L351.5,333.0 L350.7,332.1 L349.9,332.6 L349.1,332.1 L348.3,334.2 L347.5,331.7 L346.7,329.5 L345.9,330.8 L345.1,329.1 L344.3,330.7 L343.5,328.9 L342.7,330.3 L341.9,332.9 L341.1,326.9 L340.3,325.9 L339.5,327.7 L338.7,326.0 L337.9,324.0 L337.1,322.9 L336.3,321.9 L335.5,322.0 L334.7,323.7 L333.9,322.5 L333.1,321.1 L332.3,322.2 L331.5,325.9 L330.7,322.5 L329.9,322.9 L329.1,324.6 L328.3,325.4 L327.5,326.7 L326.7,326.2 L325.9,327.9 L325.1,331.1 L324.3,329.8 L323.5,331.0 L322.7,332.1 L321.9,329.2 L321.1,330.1 L320.3,329.7 L319.5,331.3 L318.7,333.0 L317.9,328.5 L317.1,334.9 L316.3,327.7 L315.5,326.3 L314.7,325.0 L313.9,326.7 L313.1,331.1 L312.3,328.5 L311.5,329.3 L310.7,333.8 L309.9,334.2 L309.1,330.9 L308.3,333.2 L307.5,332.5 L306.7,338.1 L305.9,335.3 L305.1,344.3 L304.3,339.2 L303.5,338.6 L302.7,337.8 L301.9,340.4 L301.1,342.3 L300.3,341.5 L299.5,344.0 L298.7,341.6 L297.9,344.2 L297.1,342.1 L296.3,345.6 L295.5,347.6 L294.7,342.2 L293.9,346.6 L293.1,342.4 L292.3,340.8 L291.5,341.2 L290.7,341.9 L289.9,339.6 L289.1,338.6 L288.3,340.7 L287.5,344.8 L286.7,343.4 L285.9,345.6 L285.1,346.4 L284.3,345.4 L283.5,350.0 L282.7,349.7 L281.9,346.1 L281.1,346.9 L280.3,348.2 L279.5,346.6 L278.7,349.6 L277.9,349.1 L277.1,349.9 L276.3,349.2 L275.5,351.7 L274.7,348.7 L273.9,353.0 L273.1,347.7 L272.3,348.7 L271.5,348.1 L270.7,351.2 L269.9,350.5 L269.1,352.2 L268.3,351.8 L267.5,355.3 L266.7,356.3 L265.9,356.4 L265.1,356.7 L264.3,355.2 L263.5,356.7 L262.7,357.6 L261.9,355.5 L261.1,354.4 L260.3,354.1 L259.5,352.7 L258.7,352.9 L257.9,354.2 L257.1,354.3 L256.3,352.9 L255.5,355.7 L254.7,356.3 L253.9,357.9 L253.1,358.3 L252.3,355.0 L251.5,357.8 L250.7,355.7 L249.9,356.4 L249.1,354.5 L248.3,355.5 L247.5,356.8 L246.7,359.2 L245.9,357.2 L245.1,359.1 L244.3,362.7 L243.5,364.0 L242.7,359.0 L241.9,359.9 L241.1,360.1 L240.3,359.4 L239.5,359.0 L238.7,357.2 L237.9,355.6 L237.1,357.6 L236.3,358.4 L235.5,355.4 L234.7,355.0 L233.9,358.5 L233.1,357.8 L232.3,357.8 L231.5,360.5 L230.7,359.1 L229.9,358.6 L229.1,359.4 L228.3,356.0 L227.5,356.6 L226.7,358.1 L225.9,358.7 L225.1,360.9 L224.3,362.9 L223.5,359.1 L222.7,363.7 L221.9,360.6 L221.1,360.1 L220.3,362.1 L219.5,362.0 L218.7,362.6 L217.9,363.7 L217.1,367.7 L216.3,364.7 L215.5,365.4 L214.7,368.3 L213.9,363.2 L213.1,364.1 L212.3,364.4 L211.5,362.3 L210.7,364.4 L209.9,361.8 L209.1,361.1 L208.3,364.7 L207.5,364.8 L206.7,362.5 L205.9,360.9 L205.1,364.3 L204.3,362.1 L203.5,365.0 L202.7,361.8 L201.9,364.1 L201.1,361.4 L200.3,360.6 L199.5,363.2 L198.7,364.8 L197.9,362.3 L197.1,363.9 L196.3,365.1 L195.5,363.4 L194.7,366.2 L193.9,365.4 L193.1,366.1 L192.3,372.3 L191.5,369.9 L190.7,368.8 L189.9,366.8 L189.1,366.4 L188.3,367.3 L187.5,369.9 L186.7,369.3 L185.9,372.0 L185.1,372.1 L184.3,370.4 L183.5,370.3 L182.7,370.7 L181.9,374.1 L181.1,373.0 L180.3,371.1 L179.5,376.3 L178.7,374.3 L177.9,376.7 L177.1,378.7 L176.3,380.6 L175.5,375.2 L174.7,372.9 L173.9,372.6 L173.1,373.1 L172.3,373.1 L171.5,374.7 L170.7,373.5 L169.9,371.4 L169.1,372.4 L168.3,374.5 L167.5,369.7 L166.7,369.4 L165.9,370.4 L165.1,372.6 L164.3,370.0 L163.5,373.9 L162.7,374.0 L161.9,376.4 L161.1,374.0 L160.3,375.7 L159.5,374.5 L158.7,377.0 L157.9,377.7 L157.1,378.3 L156.3,377.5 L155.5,380.2 L154.7,379.0 L153.9,376.7 L153.1,376.1 L152.3,377.2 L151.5,383.5 L150.7,377.9 L149.9,377.6 L149.1,379.0 L148.3,379.3 L147.5,380.3 L146.7,380.0 L145.9,383.2 L145.1,381.9 L144.3,381.9 L143.5,379.4 L142.7,376.4 L141.9,378.6 L141.1,372.7 L140.3,373.8 L139.5,372.3 L138.7,372.7 L137.9,373.6 L137.1,376.9 L136.3,375.0 L135.5,371.8 L134.7,376.7 L133.9,372.8 L133.1,374.8 L132.3,376.0 L131.5,374.2 L130.7,374.3 L129.9,374.3 L129.1,376.1 L128.3,376.1 L127.5,378.4 L126.7,374.4 L125.9,373.5 L125.1,374.8 L124.3,376.4 L123.5,375.2 L122.7,371.6 L121.9,369.7 L121.1,367.3 L120.3,364.4 L119.5,365.2 L118.7,366.9 L117.9,369.6 L117.1,368.8 L116.3,372.6 L115.5,370.9 L114.7,375.9 L113.9,373.6 L113.1,378.5 L112.3,376.3 L111.5,378.5 L110.7,379.5 L109.9,379.9 L109.1,379.5 L108.3,381.4 L107.5,380.4 L106.7,379.0 L105.9,382.5 L105.1,380.8 L104.3,380.3 L103.5,382.6 L102.7,379.9 L101.9,380.7 L101.1,380.2 L100.3,377.7 L99.5,380.6 L98.7,381.6 L97.9,380.1 L97.1,380.6 L96.3,380.9 L95.5,377.9 L94.7,380.2 L93.9,376.9 L93.1,380.9 L92.3,376.6 L91.5,376.1 L90.7,377.9 L89.9,381.0 L89.1,373.6 L88.3,378.4 L87.5,371.8 L86.7,375.7 L85.9,376.2 L85.1,376.1 L84.3,375.9 L83.5,375.1 L82.7,379.6 L81.9,381.9 L81.1,381.9 L80.3,378.4 L79.5,383.3 L78.7,381.0 L77.9,378.8 L77.1,375.1 L76.3,373.0 L75.5,373.2 L74.7,379.8 L73.9,374.3 L73.1,378.5 L72.3,377.3 L71.5,379.0Z" fill="#bf00bf" stroke="#bf00bf" stroke-width="0.5" stroke-linejoin="round"/>
</g>
<rect x="71.5" y="107.8" width="390.3" height="278.9" fill="none" stroke="#333" stroke-width="1"/>
<path d="M71.6,386.7v4M134.0,386.7v4M196.4,386.7v4M258.8,386.7v4M321.2,386.7v4M383.6,386.7v4M446.0,386.7v4M71.5,123.0h-4M71.5,154.1h-4M71.5,185.1h-4M71.5,216.2h-4M71.5,247.2h-4M71.5,278.3h-4M71.5,309.4h-4M71.5,340.4h-4M71.5,371.5h-4" stroke="#262626" stroke-width="1.1" fill="none"/>
<text class="dj" x="71.6" y="403.3" text-anchor="middle" style="font-size:10.4px">0</text>
<text class="dj" x="134.0" y="403.3" text-anchor="middle" style="font-size:10.4px">1</text>
<text class="dj" x="196.4" y="403.3" text-anchor="middle" style="font-size:10.4px">2</text>
<text class="dj" x="258.8" y="403.3" text-anchor="middle" style="font-size:10.4px">3</text>
<text class="dj" x="321.2" y="403.3" text-anchor="middle" style="font-size:10.4px">4</text>
<text class="dj" x="383.6" y="403.3" text-anchor="middle" style="font-size:10.4px">5</text>
<text class="dj" x="446.0" y="403.3" text-anchor="middle" style="font-size:10.4px">6</text>
<text class="dj" x="62.4" y="127.0" text-anchor="end" style="font-size:10.4px">−10</text>
<text class="dj" x="62.4" y="158.1" text-anchor="end" style="font-size:10.4px">−20</text>
<text class="dj" x="62.4" y="189.1" text-anchor="end" style="font-size:10.4px">−30</text>
<text class="dj" x="62.4" y="220.2" text-anchor="end" style="font-size:10.4px">−40</text>
<text class="dj" x="62.4" y="251.2" text-anchor="end" style="font-size:10.4px">−50</text>
<text class="dj" x="62.4" y="282.3" text-anchor="end" style="font-size:10.4px">−60</text>
<text class="dj" x="62.4" y="313.4" text-anchor="end" style="font-size:10.4px">−70</text>
<text class="dj" x="62.4" y="344.4" text-anchor="end" style="font-size:10.4px">−80</text>
<text class="dj" x="62.4" y="375.5" text-anchor="end" style="font-size:10.4px">−90</text>
<text class="dj" x="266.1" y="417.0" text-anchor="middle" style="font-size:10.82px">Freq(Hz)</text>
<text class="dj" x="461.4" y="416.0" text-anchor="end" style="font-size:10.4px">1e10</text>
<text class="dj" transform="translate(34.3,249.1) rotate(-90)" text-anchor="middle" style="font-size:10.3px">Power(dBm)</text>
<text class="dj" x="110.0" y="382.8" style="font-size:7.45px" fill="#111">Magenta is contour of specA noise</text>
<clipPath id="clip2"><rect x="645.6" y="108.4" width="375.4" height="277.9"/></clipPath>
<g stroke="#bdbdbd" stroke-width="1.1" stroke-dasharray="1.1 1.75" fill="none"><line x1="645.6" y1="123.5" x2="706" y2="123.5"/><line x1="645.6" y1="154.4" x2="706" y2="154.4"/><line x1="645.6" y1="185.4" x2="706" y2="185.4"/><line x1="645.6" y1="216.3" x2="870" y2="216.3"/><line x1="645.6" y1="247.2" x2="860" y2="247.2"/><line x1="645.6" y1="278.1" x2="1021.0" y2="278.1"/><line x1="645.6" y1="309.1" x2="1021.0" y2="309.1"/><line x1="645.6" y1="340.0" x2="1021.0" y2="340.0"/><line x1="645.6" y1="370.9" x2="1021.0" y2="370.9"/><line x1="705.6" y1="108.4" x2="705.6" y2="386.3"/><line x1="765.6" y1="215" x2="765.6" y2="386.3"/><line x1="825.6" y1="213" x2="825.6" y2="386.3"/><line x1="885.6" y1="268" x2="885.6" y2="386.3"/><line x1="945.6" y1="268" x2="945.6" y2="386.3"/><line x1="1005.6" y1="268" x2="1005.6" y2="386.3"/></g>
<g clip-path="url(#clip2)">
<path d="M645.6,377.1 L646.1,376.1 L646.6,374.8 L647.1,375.6 L647.6,376.4 L648.1,374.6 L648.6,374.2 L649.1,372.4 L649.6,372.3 L650.1,370.7 L650.6,372.3 L651.1,374.2 L651.6,375.2 L652.1,376.8 L652.6,377.5 L653.1,377.6 L653.6,377.2 L654.1,377.0 L654.6,377.4 L655.1,378.1 L655.6,376.6 L656.1,377.1 L656.6,377.1 L657.1,378.0 L657.6,376.0 L658.1,375.1 L658.6,374.5 L659.1,376.1 L659.6,376.2 L660.1,377.2 L660.6,376.6 L661.1,377.9 L661.6,375.8 L662.1,375.5 L662.6,374.9 L663.1,375.6 L663.6,377.1 L664.1,376.0 L664.6,377.3 L665.1,376.2 L665.6,376.9 L666.1,377.1 L666.6,377.8 L667.1,378.0 L667.6,379.6 L668.1,379.8 L668.6,379.5 L669.1,378.7 L669.6,379.4 L670.1,381.2 L670.6,381.9 L671.1,380.7 L671.6,380.7 L672.1,380.3 L672.6,381.2 L673.1,380.7 L673.6,377.7 L674.1,377.4 L674.6,378.6 L675.1,379.7 L675.6,379.8 L676.1,378.8 L676.6,380.7 L677.1,382.3 L677.6,380.4 L678.1,379.7 L678.6,378.8 L679.1,378.8 L679.6,378.4 L680.1,378.8 L680.6,380.5 L681.1,380.6 L681.6,376.9 L682.1,375.5 L682.6,375.0 L683.1,376.4 L683.6,376.1 L684.1,377.8 L684.6,377.5 L685.1,376.5 L685.6,374.1 L686.1,373.6 L686.6,373.2 L687.1,372.2 L687.6,372.2 L688.1,371.8 L688.6,370.2 L689.1,368.7 L689.6,368.0 L690.1,367.8 L690.6,367.9 L691.1,367.3 L691.6,366.1 L692.1,364.7 L692.6,364.8 L693.1,367.5 L693.6,369.1 L694.1,370.2 L694.6,370.4 L695.1,371.2 L695.6,372.8 L696.1,373.6 L696.6,375.1 L697.1,374.8 L697.6,374.9 L698.1,374.2 L698.6,374.7 L699.1,375.1 L699.6,375.6 L700.1,375.9 L700.6,374.0 L701.1,373.6 L701.6,374.1 L702.1,376.8 L702.6,377.7 L703.1,376.6 L703.6,374.4 L704.1,374.6 L704.6,375.3 L705.1,375.2 L705.6,375.3 L706.1,375.0 L706.6,376.3 L707.1,375.0 L707.6,375.0 L708.1,373.4 L708.6,375.3 L709.1,374.9 L709.6,375.1 L710.1,374.9 L710.6,375.6 L711.1,375.9 L711.6,376.4 L712.1,374.7 L712.6,375.4 L713.1,374.5 L713.6,373.5 L714.1,374.0 L714.6,373.1 L715.1,374.9 L715.6,373.4 L716.1,373.8 L716.6,373.1 L717.1,373.3 L717.6,372.8 L718.1,372.8 L718.6,374.8 L719.1,374.2 L719.6,374.7 L720.1,373.4 L720.6,374.4 L721.1,375.7 L721.6,376.6 L722.1,376.5 L722.6,375.5 L723.1,374.8 L723.6,375.5 L724.1,376.2 L724.6,375.7 L725.1,373.4 L725.6,374.4 L726.1,375.4 L726.6,377.0 L727.1,375.5 L727.6,374.3 L728.1,373.3 L728.6,372.6 L729.1,372.7 L729.6,372.9 L730.1,372.0 L730.6,371.8 L731.1,372.6 L731.6,373.2 L732.1,373.3 L732.6,371.2 L733.1,371.2 L733.6,370.7 L734.1,371.0 L734.6,369.5 L735.1,369.6 L735.6,369.6 L736.1,370.9 L736.6,369.9 L737.1,370.7 L737.6,369.7 L738.1,368.6 L738.6,367.9 L739.1,367.9 L739.6,369.5 L740.1,369.2 L740.6,369.1 L741.1,369.2 L741.6,370.4 L742.1,371.2 L742.6,371.3 L743.1,370.7 L743.6,370.7 L744.1,370.6 L744.6,370.5 L745.1,369.9 L745.6,369.3 L746.1,370.8 L746.6,370.7 L747.1,370.4 L747.6,368.3 L748.1,368.2 L748.6,368.6 L749.1,368.0 L749.6,366.5 L750.1,366.5 L750.6,366.1 L751.1,367.7 L751.6,367.9 L752.1,370.2 L752.6,371.6 L753.1,372.1 L753.6,371.1 L754.1,369.3 L754.6,368.7 L755.1,369.5 L755.6,369.1 L756.1,370.1 L756.6,370.4 L757.1,372.7 L757.6,372.7 L758.1,373.1 L758.6,372.4 L759.1,371.7 L759.6,369.6 L760.1,369.6 L760.6,370.5 L761.1,371.3 L761.6,370.9 L762.1,368.4 L762.6,368.7 L763.1,367.2 L763.6,367.9 L764.1,366.3 L764.6,365.5 L765.1,365.1 L765.6,364.4 L766.1,364.6 L766.6,363.9 L767.1,363.6 L767.6,362.9 L768.1,362.6 L768.6,362.0 L769.1,362.1 L769.6,360.9 L770.1,359.8 L770.6,359.0 L771.1,358.8 L771.6,359.6 L772.1,360.7 L772.6,359.5 L773.1,359.3 L773.6,356.5 L774.1,356.7 L774.6,355.9 L775.1,355.6 L775.6,355.0 L776.1,355.7 L776.6,357.6 L777.1,359.1 L777.6,358.6 L778.1,360.4 L778.6,360.6 L779.1,360.7 L779.6,360.6 L780.1,361.4 L780.6,362.0 L781.1,361.8 L781.6,361.7 L782.1,362.7 L782.6,362.2 L783.1,361.5 L783.6,361.9 L784.1,362.1 L784.6,362.3 L785.1,361.2 L785.6,362.0 L786.1,362.7 L786.6,363.6 L787.1,363.5 L787.6,364.1 L788.1,363.2 L788.6,362.9 L789.1,363.0 L789.6,364.3 L790.1,364.5 L790.6,363.6 L791.1,363.1 L791.6,362.5 L792.1,361.5 L792.6,361.8 L793.1,361.4 L793.6,361.7 L794.1,361.4 L794.6,360.6 L795.1,359.2 L795.6,358.6 L796.1,358.0 L796.6,358.8 L797.1,357.9 L797.6,358.5 L798.1,358.5 L798.6,357.7 L799.1,356.9 L799.6,356.9 L800.1,356.7 L800.6,355.9 L801.1,354.9 L801.6,354.8 L802.1,355.2 L802.6,356.1 L803.1,357.8 L803.6,358.6 L804.1,358.7 L804.6,358.3 L805.1,358.5 L805.6,357.6 L806.1,357.4 L806.6,356.8 L807.1,357.1 L807.6,356.4 L808.1,355.9 L808.6,355.9 L809.1,355.4 L809.6,356.3 L810.1,356.7 L810.6,357.7 L811.1,357.5 L811.6,357.9 L812.1,357.2 L812.6,356.8 L813.1,354.9 L813.6,353.6 L814.1,352.1 L814.6,354.3 L815.1,354.5 L815.6,356.1 L816.1,356.0 L816.6,356.9 L817.1,357.6 L817.6,357.7 L818.1,358.7 L818.6,359.1 L819.1,358.0 L819.6,356.7 L820.1,355.2 L820.6,354.2 L821.1,353.7 L821.6,352.2 L822.1,354.2 L822.6,354.6 L823.1,355.4 L823.6,353.1 L824.1,353.4 L824.6,353.2 L825.1,353.2 L825.6,352.1 L826.1,351.3 L826.6,351.0 L827.1,352.1 L827.6,354.7 L828.1,356.1 L828.6,357.2 L829.1,356.0 L829.6,355.2 L830.1,352.8 L830.6,352.2 L831.1,350.4 L831.6,350.9 L832.1,351.9 L832.6,353.5 L833.1,354.3 L833.6,352.5 L834.1,351.0 L834.6,349.6 L835.1,349.3 L835.6,351.0 L836.1,352.6 L836.6,352.1 L837.1,350.7 L837.6,348.8 L838.1,348.9 L838.6,348.0 L839.1,347.9 L839.6,348.2 L840.1,349.1 L840.6,347.9 L841.1,347.3 L841.6,345.4 L842.1,346.6 L842.6,345.6 L843.1,346.4 L843.6,345.1 L844.1,345.1 L844.6,344.2 L845.1,342.8 L845.6,344.2 L846.1,344.9 L846.6,346.1 L847.1,346.0 L847.6,345.4 L848.1,345.3 L848.6,343.4 L849.1,344.1 L849.6,343.7 L850.1,343.6 L850.6,342.2 L851.1,341.7 L851.6,342.0 L852.1,340.3 L852.6,339.7 L853.1,338.2 L853.6,339.2 L854.1,337.6 L854.6,338.6 L855.1,338.3 L855.6,339.7 L856.1,338.9 L856.6,338.4 L857.1,338.3 L857.6,337.4 L858.1,338.1 L858.6,338.3 L859.1,339.8 L859.6,340.6 L860.1,340.9 L860.6,342.6 L861.1,343.0 L861.6,342.3 L862.1,340.3 L862.6,339.6 L863.1,340.5 L863.6,340.6 L864.1,340.6 L864.6,342.1 L865.1,342.7 L865.6,343.2 L866.1,341.9 L866.6,341.8 L867.1,343.0 L867.6,342.7 L868.1,342.8 L868.6,338.6 L869.1,337.6 L869.6,336.7 L870.1,339.6 L870.6,338.5 L871.1,335.6 L871.6,333.7 L872.1,332.3 L872.6,331.4 L873.1,329.6 L873.6,330.0 L874.1,331.3 L874.6,331.5 L875.1,329.0 L875.6,329.1 L876.1,326.9 L876.6,326.7 L877.1,322.9 L877.6,323.9 L878.1,323.4 L878.6,325.2 L879.1,324.7 L879.6,324.6 L880.1,324.5 L880.6,323.3 L881.1,324.5 L881.6,325.4 L882.1,326.8 L882.6,326.4 L883.1,326.3 L883.6,328.1 L884.1,328.8 L884.6,329.0 L885.1,327.8 L885.6,326.7 L886.1,326.6 L886.6,327.4 L887.1,328.6 L887.6,329.3 L888.1,329.3 L888.6,329.2 L889.1,328.8 L889.6,328.2 L890.1,327.5 L890.6,326.7 L891.1,326.0 L891.6,324.1 L892.1,324.5 L892.6,322.6 L893.1,324.0 L893.6,322.5 L894.1,323.8 L894.6,322.6 L895.1,321.4 L895.6,320.8 L896.1,320.4 L896.6,320.6 L897.1,319.3 L897.6,319.4 L898.1,320.2 L898.6,320.8 L899.1,319.4 L899.6,319.0 L900.1,319.4 L900.6,322.4 L901.1,323.5 L901.6,323.8 L902.1,323.9 L902.6,324.0 L903.1,324.5 L903.6,324.3 L904.1,323.7 L904.6,325.0 L905.1,325.6 L905.6,327.0 L906.1,325.9 L906.6,326.1 L907.1,327.6 L907.6,328.3 L908.1,327.7 L908.6,327.2 L909.1,326.8 L909.6,326.3 L910.1,325.9 L910.6,326.9 L911.1,328.6 L911.6,328.9 L912.1,329.9 L912.6,330.3 L913.1,330.5 L913.6,330.2 L914.1,331.2 L914.6,332.6 L915.1,333.9 L915.6,334.3 L916.1,331.4 L916.6,330.3 L917.1,329.9 L917.6,333.0 L918.1,333.0 L918.6,334.8 L919.1,335.4 L919.6,336.6 L920.1,336.2 L920.6,336.2 L921.1,336.6 L921.6,337.3 L922.1,337.8 L922.6,337.8 L923.1,337.4 L923.6,338.2 L924.1,338.9 L924.6,340.8 L925.1,340.6 L925.6,343.2 L926.1,343.4 L926.6,344.0 L927.1,343.3 L927.6,344.0 L928.1,345.1 L928.6,344.6 L929.1,344.4 L929.6,346.5 L930.1,346.8 L930.6,347.7 L931.1,346.8 L931.6,348.4 L932.1,348.2 L932.6,348.5 L933.1,349.9 L933.6,351.2 L934.1,351.2 L934.6,352.1 L935.1,351.3 L935.6,353.0 L936.1,352.6 L936.6,354.9 L937.1,355.3 L937.6,356.5 L938.1,356.1 L938.6,357.1 L939.1,357.1 L939.6,359.0 L940.1,357.5 L940.6,357.9 L941.1,356.5 L941.6,356.9 L942.1,355.4 L942.6,355.2 L943.1,353.7 L943.6,352.9 L944.1,352.9 L944.6,352.7 L945.1,354.6 L945.6,353.6 L946.1,354.7 L946.6,353.5 L947.1,353.8 L947.6,353.2 L948.1,352.7 L948.6,352.1 L949.1,353.0 L949.6,354.1 L950.1,355.1 L950.6,354.6 L951.1,353.5 L951.6,351.3 L952.1,351.4 L952.6,352.2 L953.1,353.1 L953.6,353.1 L954.1,353.4 L954.6,353.8 L955.1,353.9 L955.6,353.1 L956.1,351.7 L956.6,350.5 L957.1,350.0 L957.6,351.6 L958.1,351.3 L958.6,351.2 L959.1,350.0 L959.6,350.6 L960.1,350.9 L960.6,352.2 L961.1,352.7 L961.6,352.6 L962.1,351.9 L962.6,351.3 L963.1,351.1 L963.6,351.9 L964.1,349.8 L964.6,349.5 L965.1,348.4 L965.6,351.0 L966.1,350.2 L966.6,350.0 L967.1,349.7 L967.6,350.1 L968.1,348.2 L968.6,347.2 L969.1,346.5 L969.6,348.3 L970.1,347.7 L970.6,349.8 L971.1,349.3 L971.6,349.2 L972.1,347.4 L972.6,346.3 L973.1,347.4 L973.6,349.2 L974.1,350.1 L974.6,350.8 L975.1,349.3 L975.6,350.0 L976.1,351.3 L976.6,351.3 L977.1,352.2 L977.6,351.7 L978.1,351.6 L978.6,349.9 L979.1,348.6 L979.6,351.0 L980.1,352.1 L980.6,353.0 L981.1,353.1 L981.6,353.8 L982.1,354.4 L982.6,353.9 L983.1,354.9 L983.6,354.5 L984.1,356.3 L984.6,355.7 L985.1,356.1 L985.6,355.8 L986.1,356.9 L986.6,356.4 L987.1,356.6 L987.6,355.7 L988.1,357.0 L988.6,357.9 L989.1,358.7 L989.6,360.0 L990.1,359.6 L990.6,362.1 L991.1,362.2 L991.6,362.1 L992.1,360.3 L992.6,360.1 L993.1,361.3 L993.6,361.3 L994.1,361.9 L994.6,361.1 L995.1,360.3 L995.6,359.0 L996.1,358.0 L996.6,357.3 L997.1,356.8 L997.6,356.6 L998.1,355.2 L998.6,352.5 L999.1,350.4 L999.6,350.2 L1000.1,348.9 L1000.6,348.3 L1001.1,347.6 L1001.6,348.2 L1002.1,346.9 L1002.6,347.0 L1003.1,347.7 L1003.6,347.5 L1004.1,346.3 L1004.6,346.3 L1005.1,345.8 L1005.6,347.0 L1006.1,345.5 L1006.6,346.4 L1007.1,343.8 L1007.6,344.7 L1008.1,344.1 L1008.6,345.2 L1009.1,346.1 L1009.6,347.4 L1010.1,347.4 L1010.6,348.0 L1011.1,347.4 L1011.6,348.5 L1012.1,347.3 L1012.6,348.3 L1013.1,347.8 L1013.6,348.2 L1014.1,347.6 L1014.6,346.6 L1015.1,345.7 L1015.6,345.7 L1016.1,345.8 L1016.6,344.9 L1017.1,343.7 L1017.6,342.8 L1018.1,343.2 L1018.6,343.5 L1019.1,343.7 L1019.6,342.8 L1020.1,342.3 L1020.6,340.8 L1020.6,385.0 L1020.1,381.9 L1019.6,382.5 L1019.1,382.4 L1018.6,380.2 L1018.1,383.6 L1017.6,381.7 L1017.1,382.9 L1016.6,383.9 L1016.1,384.6 L1015.6,382.6 L1015.1,383.1 L1014.6,382.9 L1014.1,383.7 L1013.6,384.7 L1013.1,384.4 L1012.6,386.2 L1012.1,388.5 L1011.6,383.8 L1011.1,383.2 L1010.6,383.0 L1010.1,384.7 L1009.6,382.8 L1009.1,384.7 L1008.6,385.4 L1008.1,385.6 L1007.6,386.7 L1007.1,388.2 L1006.6,386.2 L1006.1,386.6 L1005.6,389.5 L1005.1,390.1 L1004.6,389.9 L1004.1,391.9 L1003.6,393.2 L1003.1,393.9 L1002.6,395.0 L1002.1,395.1 L1001.6,394.9 L1001.1,395.4 L1000.6,395.7 L1000.1,394.6 L999.6,396.2 L999.1,396.1 L998.6,396.1 L998.1,396.1 L997.6,394.7 L997.1,394.8 L996.6,394.6 L996.1,395.0 L995.6,394.9 L995.1,394.6 L994.6,393.8 L994.1,394.2 L993.6,395.8 L993.1,395.0 L992.6,395.7 L992.1,396.0 L991.6,394.7 L991.1,395.6 L990.6,395.4 L990.1,394.8 L989.6,395.8 L989.1,395.2 L988.6,396.0 L988.1,396.8 L987.6,395.0 L987.1,395.1 L986.6,394.4 L986.1,394.3 L985.6,394.5 L985.1,395.4 L984.6,394.7 L984.1,394.0 L983.6,395.0 L983.1,394.3 L982.6,395.3 L982.1,394.7 L981.6,394.5 L981.1,395.9 L980.6,394.5 L980.1,395.2 L979.6,393.9 L979.1,393.0 L978.6,394.5 L978.1,394.2 L977.6,394.1 L977.1,393.6 L976.6,393.0 L976.1,393.4 L975.6,394.9 L975.1,395.0 L974.6,395.2 L974.1,395.9 L973.6,396.1 L973.1,396.1 L972.6,395.7 L972.1,394.9 L971.6,395.5 L971.1,396.1 L970.6,396.8 L970.1,396.7 L969.6,395.6 L969.1,394.8 L968.6,394.7 L968.1,393.9 L967.6,394.2 L967.1,394.6 L966.6,394.1 L966.1,395.3 L965.6,394.6 L965.1,394.4 L964.6,394.0 L964.1,394.1 L963.6,394.3 L963.1,394.4 L962.6,395.1 L962.1,394.1 L961.6,394.6 L961.1,394.6 L960.6,394.5 L960.1,395.1 L959.6,395.0 L959.1,395.2 L958.6,395.2 L958.1,395.2 L957.6,395.6 L957.1,395.3 L956.6,395.6 L956.1,394.6 L955.6,394.5 L955.1,395.8 L954.6,395.2 L954.1,395.8 L953.6,395.2 L953.1,393.7 L952.6,394.7 L952.1,395.4 L951.6,395.5 L951.1,396.4 L950.6,395.3 L950.1,395.2 L949.6,395.6 L949.1,395.3 L948.6,395.3 L948.1,394.8 L947.6,394.3 L947.1,394.2 L946.6,394.2 L946.1,394.6 L945.6,394.5 L945.1,394.1 L944.6,395.0 L944.1,395.2 L943.6,395.1 L943.1,395.6 L942.6,395.6 L942.1,394.6 L941.6,395.3 L941.1,396.1 L940.6,395.3 L940.1,395.6 L939.6,394.2 L939.1,393.0 L938.6,393.2 L938.1,393.7 L937.6,394.9 L937.1,394.8 L936.6,395.6 L936.1,394.8 L935.6,394.8 L935.1,395.0 L934.6,392.6 L934.1,391.9 L933.6,389.7 L933.1,387.6 L932.6,389.4 L932.1,385.9 L931.6,388.8 L931.1,389.1 L930.6,386.6 L930.1,385.7 L929.6,386.4 L929.1,385.0 L928.6,386.8 L928.1,385.1 L927.6,383.8 L927.1,385.1 L926.6,384.3 L926.1,384.3 L925.6,383.0 L925.1,381.2 L924.6,381.2 L924.1,380.6 L923.6,380.6 L923.1,381.1 L922.6,381.9 L922.1,394.3 L921.6,380.8 L921.1,380.7 L920.6,378.4 L920.1,376.8 L919.6,377.3 L919.1,376.6 L918.6,378.7 L918.1,374.5 L917.6,375.0 L917.1,373.8 L916.6,373.3 L916.1,374.9 L915.6,374.5 L915.1,382.5 L914.6,369.1 L914.1,369.6 L913.6,369.8 L913.1,369.5 L912.6,369.0 L912.1,368.2 L911.6,366.8 L911.1,368.0 L910.6,365.5 L910.1,366.3 L909.6,365.3 L909.1,364.4 L908.6,364.2 L908.1,364.4 L907.6,365.1 L907.1,371.7 L906.6,365.3 L906.1,367.6 L905.6,366.8 L905.1,367.4 L904.6,368.1 L904.1,369.5 L903.6,367.8 L903.1,367.2 L902.6,366.5 L902.1,367.7 L901.6,373.1 L901.1,365.3 L900.6,366.0 L900.1,366.4 L899.6,363.7 L899.1,367.2 L898.6,360.4 L898.1,359.7 L897.6,361.7 L897.1,360.4 L896.6,363.9 L896.1,364.5 L895.6,362.4 L895.1,362.6 L894.6,372.8 L894.1,364.5 L893.6,366.4 L893.1,366.2 L892.6,366.0 L892.1,366.5 L891.6,365.7 L891.1,367.6 L890.6,367.5 L890.1,368.8 L889.6,369.0 L889.1,370.0 L888.6,369.9 L888.1,368.2 L887.6,367.4 L887.1,368.1 L886.6,368.6 L886.1,367.0 L885.6,368.6 L885.1,368.7 L884.6,368.6 L884.1,380.0 L883.6,370.3 L883.1,368.5 L882.6,369.9 L882.1,366.7 L881.6,365.7 L881.1,364.3 L880.6,361.4 L880.1,362.4 L879.6,362.2 L879.1,362.3 L878.6,363.3 L878.1,362.4 L877.6,363.7 L877.1,363.3 L876.6,365.3 L876.1,364.9 L875.6,367.5 L875.1,376.6 L874.6,368.8 L874.1,369.5 L873.6,368.0 L873.1,367.4 L872.6,370.6 L872.1,372.1 L871.6,371.6 L871.1,376.4 L870.6,373.6 L870.1,374.0 L869.6,374.9 L869.1,378.1 L868.6,378.6 L868.1,376.8 L867.6,378.1 L867.1,379.3 L866.6,378.2 L866.1,377.2 L865.6,378.8 L865.1,380.3 L864.6,378.1 L864.1,379.7 L863.6,380.3 L863.1,377.3 L862.6,377.2 L862.1,381.2 L861.6,379.8 L861.1,376.7 L860.6,377.8 L860.1,377.5 L859.6,375.7 L859.1,378.0 L858.6,377.1 L858.1,377.9 L857.6,377.0 L857.1,376.1 L856.6,377.3 L856.1,376.7 L855.6,376.4 L855.1,377.7 L854.6,378.2 L854.1,380.4 L853.6,380.0 L853.1,378.1 L852.6,379.0 L852.1,379.0 L851.6,380.5 L851.1,379.4 L850.6,381.7 L850.1,383.7 L849.6,383.1 L849.1,379.6 L848.6,383.6 L848.1,381.6 L847.6,383.3 L847.1,384.1 L846.6,383.0 L846.1,382.2 L845.6,383.1 L845.1,382.5 L844.6,383.5 L844.1,397.4 L843.6,384.8 L843.1,385.2 L842.6,384.5 L842.1,395.2 L841.6,387.1 L841.1,383.8 L840.6,385.1 L840.1,385.6 L839.6,387.3 L839.1,387.1 L838.6,387.7 L838.1,397.9 L837.6,386.6 L837.1,388.5 L836.6,385.7 L836.1,387.5 L835.6,389.2 L835.1,391.0 L834.6,390.2 L834.1,391.5 L833.6,392.1 L833.1,393.8 L832.6,393.7 L832.1,393.3 L831.6,393.5 L831.1,392.5 L830.6,393.3 L830.1,394.2 L829.6,394.1 L829.1,395.5 L828.6,396.0 L828.1,395.7 L827.6,396.3 L827.1,394.7 L826.6,393.7 L826.1,394.1 L825.6,393.8 L825.1,394.6 L824.6,395.3 L824.1,395.3 L823.6,395.9 L823.1,395.4 L822.6,394.8 L822.1,394.7 L821.6,394.7 L821.1,395.0 L820.6,396.1 L820.1,395.9 L819.6,395.5 L819.1,396.2 L818.6,395.1 L818.1,395.2 L817.6,394.6 L817.1,394.1 L816.6,394.5 L816.1,393.0 L815.6,393.4 L815.1,392.4 L814.6,393.6 L814.1,394.8 L813.6,395.1 L813.1,396.0 L812.6,396.1 L812.1,396.1 L811.6,395.8 L811.1,395.7 L810.6,395.0 L810.1,395.9 L809.6,396.0 L809.1,396.3 L808.6,396.5 L808.1,395.5 L807.6,394.3 L807.1,394.6 L806.6,394.8 L806.1,393.6 L805.6,393.7 L805.1,393.0 L804.6,392.6 L804.1,394.1 L803.6,394.8 L803.1,394.5 L802.6,394.1 L802.1,393.7 L801.6,394.0 L801.1,394.3 L800.6,394.0 L800.1,394.2 L799.6,393.5 L799.1,393.6 L798.6,394.5 L798.1,394.8 L797.6,394.1 L797.1,394.9 L796.6,395.1 L796.1,394.3 L795.6,396.0 L795.1,394.5 L794.6,394.2 L794.1,395.2 L793.6,394.6 L793.1,394.2 L792.6,394.4 L792.1,394.1 L791.6,393.6 L791.1,393.9 L790.6,393.4 L790.1,393.4 L789.6,393.7 L789.1,394.6 L788.6,395.6 L788.1,395.8 L787.6,395.7 L787.1,395.7 L786.6,394.1 L786.1,394.3 L785.6,394.3 L785.1,394.0 L784.6,395.1 L784.1,394.3 L783.6,395.4 L783.1,395.3 L782.6,395.1 L782.1,396.1 L781.6,395.0 L781.1,394.7 L780.6,394.4 L780.1,393.6 L779.6,394.0 L779.1,395.0 L778.6,394.4 L778.1,394.6 L777.6,394.4 L777.1,393.3 L776.6,393.2 L776.1,393.3 L775.6,393.1 L775.1,393.0 L774.6,393.8 L774.1,393.3 L773.6,392.9 L773.1,393.9 L772.6,393.6 L772.1,393.6 L771.6,395.1 L771.1,395.4 L770.6,395.9 L770.1,395.9 L769.6,394.8 L769.1,393.8 L768.6,393.4 L768.1,393.8 L767.6,394.9 L767.1,395.1 L766.6,394.5 L766.1,394.8 L765.6,393.5 L765.1,393.0 L764.6,394.7 L764.1,394.2 L763.6,394.6 L763.1,394.9 L762.6,393.8 L762.1,394.7 L761.6,394.5 L761.1,394.2 L760.6,394.6 L760.1,393.1 L759.6,394.1 L759.1,394.1 L758.6,394.4 L758.1,396.1 L757.6,395.6 L757.1,396.5 L756.6,395.9 L756.1,394.5 L755.6,394.6 L755.1,393.6 L754.6,393.9 L754.1,393.6 L753.6,393.0 L753.1,395.0 L752.6,395.1 L752.1,396.5 L751.6,396.1 L751.1,395.0 L750.6,394.3 L750.1,393.4 L749.6,394.2 L749.1,393.4 L748.6,393.9 L748.1,394.0 L747.6,394.1 L747.1,394.7 L746.6,395.4 L746.1,396.0 L745.6,396.0 L745.1,396.9 L744.6,396.0 L744.1,396.2 L743.6,395.2 L743.1,395.1 L742.6,395.1 L742.1,394.9 L741.6,395.7 L741.1,395.2 L740.6,395.0 L740.1,394.8 L739.6,395.0 L739.1,395.5 L738.6,395.7 L738.1,395.4 L737.6,394.5 L737.1,394.4 L736.6,394.1 L736.1,393.0 L735.6,394.0 L735.1,394.1 L734.6,395.2 L734.1,395.6 L733.6,395.8 L733.1,394.7 L732.6,393.9 L732.1,394.1 L731.6,394.6 L731.1,395.8 L730.6,396.4 L730.1,396.9 L729.6,394.9 L729.1,395.0 L728.6,395.1 L728.1,395.4 L727.6,396.3 L727.1,394.7 L726.6,394.6 L726.1,394.8 L725.6,394.9 L725.1,396.1 L724.6,395.8 L724.1,394.6 L723.6,394.9 L723.1,394.8 L722.6,393.9 L722.1,394.5 L721.6,394.4 L721.1,394.6 L720.6,395.8 L720.1,395.6 L719.6,395.7 L719.1,395.9 L718.6,396.1 L718.1,397.2 L717.6,397.9 L717.1,396.9 L716.6,396.8 L716.1,395.8 L715.6,394.7 L715.1,393.6 L714.6,392.4 L714.1,392.7 L713.6,392.0 L713.1,393.4 L712.6,394.1 L712.1,393.1 L711.6,394.5 L711.1,394.1 L710.6,394.1 L710.1,394.7 L709.6,393.8 L709.1,393.7 L708.6,393.8 L708.1,394.6 L707.6,394.6 L707.1,395.8 L706.6,395.1 L706.1,394.9 L705.6,396.1 L705.1,395.0 L704.6,395.7 L704.1,394.7 L703.6,394.7 L703.1,395.3 L702.6,395.4 L702.1,396.5 L701.6,395.7 L701.1,395.3 L700.6,395.5 L700.1,394.8 L699.6,394.5 L699.1,394.1 L698.6,394.0 L698.1,393.5 L697.6,393.3 L697.1,393.6 L696.6,392.6 L696.1,394.5 L695.6,396.4 L695.1,396.9 L694.6,398.0 L694.1,396.9 L693.6,395.4 L693.1,395.4 L692.6,394.9 L692.1,394.6 L691.6,394.5 L691.1,394.2 L690.6,394.9 L690.1,395.8 L689.6,396.8 L689.1,397.2 L688.6,395.6 L688.1,394.9 L687.6,395.1 L687.1,393.3 L686.6,395.1 L686.1,395.2 L685.6,395.5 L685.1,397.3 L684.6,396.0 L684.1,396.9 L683.6,396.1 L683.1,395.8 L682.6,395.7 L682.1,394.8 L681.6,394.7 L681.1,393.8 L680.6,393.5 L680.1,393.3 L679.6,392.9 L679.1,393.2 L678.6,394.2 L678.1,394.1 L677.6,394.5 L677.1,394.2 L676.6,393.1 L676.1,392.8 L675.6,392.2 L675.1,393.3 L674.6,393.5 L674.1,394.6 L673.6,395.4 L673.1,394.9 L672.6,396.5 L672.1,395.8 L671.6,395.1 L671.1,396.0 L670.6,395.2 L670.1,395.1 L669.6,394.4 L669.1,393.6 L668.6,394.2 L668.1,395.3 L667.6,396.8 L667.1,396.6 L666.6,396.3 L666.1,395.5 L665.6,394.8 L665.1,395.4 L664.6,395.2 L664.1,396.0 L663.6,396.0 L663.1,395.9 L662.6,396.1 L662.1,395.0 L661.6,395.0 L661.1,394.7 L660.6,393.9 L660.1,393.9 L659.6,393.5 L659.1,393.5 L658.6,393.4 L658.1,394.5 L657.6,394.8 L657.1,396.5 L656.6,397.7 L656.1,397.3 L655.6,396.9 L655.1,395.1 L654.6,394.9 L654.1,394.9 L653.6,395.3 L653.1,395.1 L652.6,394.1 L652.1,394.2 L651.6,394.5 L651.1,395.1 L650.6,395.8 L650.1,394.3 L649.6,393.4 L649.1,394.1 L648.6,394.4 L648.1,395.5 L647.6,395.5 L647.1,394.3 L646.6,395.5 L646.1,395.0 L645.6,395.0Z" fill="#1f77b4" stroke="#1f77b4" stroke-width="0.6" stroke-linejoin="round"/>
<rect x="646" y="306" width="3.5" height="80.30000000000001" fill="#1f77b4" opacity="0.85"/>
<rect x="649.5" y="310" width="3.5" height="76.30000000000001" fill="#1f77b4" opacity="0.85"/>
<rect x="653" y="335" width="2.5" height="51.30000000000001" fill="#1f77b4" opacity="0.85"/>
<path d="M650.9,377.6V112.9M656.7,380.8V273.2M662.6,380.5V257.4M668.4,382.1V312.8M674.3,383.4V305.6M686.0,378.0V293.2M691.9,368.5V328.0M697.8,377.9V289.5M700.8,378.3V278.4M704.0,378.8V320.5M709.5,378.2V282.5M715.6,377.8V339.0M721.2,378.9V278.4M727.1,377.9V320.5M733.0,376.4V261.5M739.0,372.8V263.0M744.9,372.4V260.8M750.8,372.0V334.4M756.8,375.5V309.0M774.4,362.3V344.6M780.0,363.8V307.5M786.0,366.3V332.6M791.6,364.0V307.0M797.6,360.6V348.3M803.5,359.0V300.0M809.0,360.4V328.0M815.2,359.6V310.9M821.3,358.0V307.3M826.8,357.0V272.3M832.8,355.6V296.0M838.6,352.7V268.8M844.5,349.2V332.6M850.4,345.4V314.0M862.4,344.9V313.0M874.1,333.5V308.4M885.6,331.6V315.0M909.3,332.0V316.8M914.9,335.3V305.5M920.9,340.5V288.5M926.8,346.3V304.7M932.8,352.7V299.4M938.4,358.7V331.7M944.4,357.7V315.0M950.1,355.9V333.5M956.0,355.3V326.0M962.0,354.4V340.0M967.7,352.8V328.9M973.7,352.0V343.7M979.6,355.4V333.5M991.3,364.7V343.7M997.2,359.3V341.0M1003.1,349.5V332.6M1008.9,349.6V341.9M1014.8,350.4V310.3M1020.4,345.9V272.2" stroke="#2a7db8" stroke-width="2.2" fill="none"/>
<path d="M679.9,382.1V359.5M683.0,380.0V356.7M694.9,374.9V354.8M768.3,365.9V355.8M771.6,364.0V353.0M686.8,376.7V365.6M769.4,365.3V355.2M775.3,361.8V354.6M822.5,357.7V349.8M846.1,348.2V337.0M852.0,344.3V336.0M887.4,332.8V323.1M916.9,336.5V327.6M928.7,348.2V337.2M970.0,352.1V342.9M987.7,361.4V349.6" stroke="#1f77b4" stroke-width="1.1" fill="none"/>
<path d="M645.6,376.6 L646.4,374.6 L647.2,373.9 L648.0,371.7 L648.8,372.4 L649.6,370.6 L650.4,370.8 L651.2,371.0 L652.0,372.1 L652.8,373.9 L653.6,377.6 L654.4,376.0 L655.2,373.7 L656.0,371.8 L656.8,373.2 L657.6,372.9 L658.4,376.0 L659.2,374.4 L660.0,374.4 L660.8,375.7 L661.6,373.4 L662.4,376.3 L663.2,375.2 L664.0,374.9 L664.8,373.3 L665.6,376.8 L666.4,376.1 L667.2,377.5 L668.0,375.1 L668.8,376.5 L669.6,374.6 L670.4,372.0 L671.2,376.6 L672.0,374.7 L672.8,377.1 L673.6,374.0 L674.4,372.5 L675.2,375.7 L676.0,377.8 L676.8,375.4 L677.6,377.2 L678.4,376.5 L679.2,376.4 L680.0,375.2 L680.8,372.3 L681.6,374.9 L682.4,372.0 L683.2,374.2 L684.0,373.1 L684.8,370.5 L685.6,372.0 L686.4,370.7 L687.2,369.4 L688.0,368.3 L688.8,368.5 L689.6,364.3 L690.4,364.7 L691.2,365.1 L692.0,357.1 L692.8,362.7 L693.6,361.6 L694.4,367.1 L695.2,366.8 L696.0,371.3 L696.8,369.6 L697.6,368.5 L698.4,368.5 L699.2,366.6 L700.0,369.3 L700.8,372.2 L701.6,369.7 L702.4,371.5 L703.2,368.7 L704.0,374.2 L704.8,372.8 L705.6,374.1 L706.4,371.2 L707.2,370.6 L708.0,372.1 L708.8,367.1 L709.6,366.3 L710.4,372.1 L711.2,371.4 L712.0,370.6 L712.8,372.8 L713.6,370.0 L714.4,373.2 L715.2,371.6 L716.0,370.3 L716.8,370.0 L717.6,372.3 L718.4,372.3 L719.2,373.0 L720.0,374.0 L720.8,371.3 L721.6,371.2 L722.4,373.4 L723.2,371.0 L724.0,369.6 L724.8,371.0 L725.6,367.1 L726.4,371.3 L727.2,370.7 L728.0,374.6 L728.8,374.9 L729.6,374.3 L730.4,374.6 L731.2,373.0 L732.0,372.7 L732.8,372.4 L733.6,369.7 L734.4,369.7 L735.2,366.9 L736.0,368.3 L736.8,366.7 L737.6,366.0 L738.4,367.4 L739.2,367.0 L740.0,363.7 L740.8,365.9 L741.6,363.7 L742.4,363.0 L743.2,367.3 L744.0,363.7 L744.8,363.8 L745.6,364.6 L746.4,362.9 L747.2,364.0 L748.0,362.7 L748.8,363.7 L749.6,364.7 L750.4,366.2 L751.2,360.0 L752.0,363.1 L752.8,365.8 L753.6,364.6 L754.4,367.6 L755.2,369.7 L756.0,370.0 L756.8,367.1 L757.6,367.3 L758.4,371.3 L759.2,371.3 L760.0,368.6 L760.8,364.3 L761.6,364.4 L762.4,367.1 L763.2,365.4 L764.0,358.3 L764.8,359.5 L765.6,360.1 L766.4,359.7 L767.2,358.2 L768.0,358.8 L768.8,359.0 L769.6,352.7 L770.4,359.0 L771.2,358.4 L772.0,355.9 L772.8,354.9 L773.6,351.0 L774.4,355.4 L775.2,353.6 L776.0,354.2 L776.8,357.2 L777.6,353.8 L778.4,355.4 L779.2,354.6 L780.0,358.0 L780.8,356.2 L781.6,357.0 L782.4,358.0 L783.2,358.0 L784.0,358.6 L784.8,358.0 L785.6,355.7 L786.4,357.5 L787.2,357.2 L788.0,354.1 L788.8,353.8 L789.6,359.7 L790.4,361.3 L791.2,356.9 L792.0,358.1 L792.8,356.4 L793.6,355.8 L794.4,355.4 L795.2,354.1 L796.0,353.6 L796.8,346.4 L797.6,348.7 L798.4,348.5 L799.2,353.8 L800.0,352.1 L800.8,347.6 L801.6,351.4 L802.4,350.7 L803.2,353.0 L804.0,353.8 L804.8,353.6 L805.6,350.8 L806.4,354.1 L807.2,355.2 L808.0,351.9 L808.8,351.6 L809.6,354.1 L810.4,353.0 L811.2,354.1 L812.0,353.4 L812.8,354.1 L813.6,356.0 L814.4,353.3 L815.2,353.3 L816.0,352.0 L816.8,353.9 L817.6,351.3 L818.4,349.9 L819.2,351.9 L820.0,354.0 L820.8,354.7 L821.6,353.7 L822.4,349.8 L823.2,353.0 L824.0,347.0 L824.8,353.8 L825.6,351.6 L826.4,348.3 L827.2,352.1 L828.0,351.7 L828.8,351.1 L829.6,348.8 L830.4,348.5 L831.2,350.3 L832.0,350.2 L832.8,344.1 L833.6,350.0 L834.4,344.8 L835.2,347.5 L836.0,342.6 L836.8,346.9 L837.6,339.5 L838.4,348.1 L839.2,345.0 L840.0,345.9 L840.8,346.9 L841.6,344.0 L842.4,343.8 L843.2,340.2 L844.0,341.1 L844.8,341.0 L845.6,342.1 L846.4,341.8 L847.2,340.4 L848.0,341.0 L848.8,340.8 L849.6,339.7 L850.4,341.2 L851.2,340.5 L852.0,336.7 L852.8,335.1 L853.6,334.4 L854.4,335.4 L855.2,333.6 L856.0,333.9 L856.8,337.7 L857.6,336.4 L858.4,338.3 L859.2,334.8 L860.0,338.1 L860.8,337.7 L861.6,339.4 L862.4,340.3 L863.2,335.7 L864.0,337.9 L864.8,340.6 L865.6,339.5 L866.4,338.3 L867.2,335.9 L868.0,338.0 L868.8,330.4 L869.6,334.3 L870.4,333.3 L871.2,330.5 L872.0,333.4 L872.8,331.0 L873.6,323.3 L874.4,324.3 L875.2,323.0 L876.0,323.7 L876.8,319.9 L877.6,319.8 L878.4,319.4 L879.2,319.7 L880.0,320.5 L880.8,320.1 L881.6,323.8 L882.4,320.7 L883.2,321.4 L884.0,325.9 L884.8,325.0 L885.6,325.8 L886.4,322.7 L887.2,328.0 L888.0,322.3 L888.8,324.8 L889.6,322.0 L890.4,320.1 L891.2,322.0 L892.0,320.4 L892.8,318.7 L893.6,320.1 L894.4,319.1 L895.2,315.7 L896.0,315.1 L896.8,315.2 L897.6,310.7 L898.4,313.9 L899.2,314.6 L900.0,318.9 L900.8,319.2 L901.6,319.5 L902.4,321.0 L903.2,323.0 L904.0,322.9 L904.8,323.3 L905.6,324.5 L906.4,319.5 L907.2,319.3 L908.0,319.8 L908.8,326.8 L909.6,326.9 L910.4,327.8 L911.2,328.1 L912.0,328.8 L912.8,326.6 L913.6,326.3 L914.4,325.8 L915.2,327.9 L916.0,330.0 L916.8,329.3 L917.6,333.1 L918.4,333.1 L919.2,330.4 L920.0,332.9 L920.8,334.4 L921.6,332.3 L922.4,331.6 L923.2,337.0 L924.0,338.7 L924.8,337.8 L925.6,335.4 L926.4,338.9 L927.2,342.9 L928.0,341.2 L928.8,341.1 L929.6,342.5 L930.4,343.1 L931.2,345.6 L932.0,344.2 L932.8,348.6 L933.6,347.5 L934.4,347.1 L935.2,349.1 L936.0,348.9 L936.8,350.3 L937.6,351.4 L938.4,350.2 L939.2,352.8 L940.0,351.3 L940.8,352.0 L941.6,350.8 L942.4,351.0 L943.2,352.9 L944.0,350.9 L944.8,351.6 L945.6,347.5 L946.4,352.2 L947.2,350.7 L948.0,350.4 L948.8,348.4 L949.6,350.0 L950.4,350.7 L951.2,348.9 L952.0,351.1 L952.8,348.2 L953.6,345.3 L954.4,351.3 L955.2,349.7 L956.0,350.8 L956.8,351.1 L957.6,350.1 L958.4,349.4 L959.2,349.0 L960.0,350.1 L960.8,343.9 L961.6,349.0 L962.4,349.6 L963.2,347.1 L964.0,349.2 L964.8,348.4 L965.6,346.2 L966.4,347.1 L967.2,348.4 L968.0,346.8 L968.8,345.9 L969.6,348.7 L970.4,345.3 L971.2,344.2 L972.0,345.9 L972.8,344.8 L973.6,341.9 L974.4,346.2 L975.2,346.0 L976.0,348.3 L976.8,348.7 L977.6,347.1 L978.4,344.6 L979.2,347.6 L980.0,348.7 L980.8,352.3 L981.6,351.9 L982.4,352.5 L983.2,350.8 L984.0,349.0 L984.8,351.8 L985.6,352.4 L986.4,353.5 L987.2,355.1 L988.0,352.7 L988.8,354.4 L989.6,352.0 L990.4,356.1 L991.2,359.0 L992.0,358.6 L992.8,357.1 L993.6,359.5 L994.4,358.3 L995.2,355.8 L996.0,357.3 L996.8,353.9 L997.6,352.3 L998.4,350.1 L999.2,347.7 L1000.0,349.4 L1000.8,345.9 L1001.6,345.5 L1002.4,342.9 L1003.2,342.7 L1004.0,340.9 L1004.8,343.4 L1005.6,343.6 L1006.4,340.3 L1007.2,343.8 L1008.0,343.3 L1008.8,340.7 L1009.6,342.0 L1010.4,342.1 L1011.2,343.8 L1012.0,341.2 L1012.8,345.1 L1013.6,343.5 L1014.4,345.5 L1015.2,339.1 L1016.0,344.9 L1016.8,344.9 L1017.6,343.7 L1018.4,340.1 L1019.2,341.4 L1020.0,343.1 L1020.8,340.5 L1020.8,347.1 L1020.0,347.0 L1019.2,348.4 L1018.4,345.9 L1017.6,348.5 L1016.8,347.5 L1016.0,348.5 L1015.2,348.7 L1014.4,349.9 L1013.6,351.0 L1012.8,348.1 L1012.0,347.2 L1011.2,347.3 L1010.4,347.4 L1009.6,347.8 L1008.8,350.7 L1008.0,346.8 L1007.2,348.0 L1006.4,350.0 L1005.6,348.1 L1004.8,351.0 L1004.0,345.0 L1003.2,346.5 L1002.4,346.7 L1001.6,352.6 L1000.8,355.1 L1000.0,354.5 L999.2,357.2 L998.4,356.9 L997.6,358.8 L996.8,362.5 L996.0,363.4 L995.2,361.7 L994.4,362.3 L993.6,364.4 L992.8,367.1 L992.0,362.8 L991.2,365.5 L990.4,364.2 L989.6,360.1 L988.8,365.2 L988.0,364.0 L987.2,362.4 L986.4,358.2 L985.6,360.2 L984.8,358.0 L984.0,355.0 L983.2,354.9 L982.4,355.0 L981.6,355.4 L980.8,355.1 L980.0,355.3 L979.2,352.4 L978.4,354.5 L977.6,351.3 L976.8,354.2 L976.0,352.9 L975.2,354.9 L974.4,354.7 L973.6,350.3 L972.8,349.8 L972.0,350.3 L971.2,351.4 L970.4,350.4 L969.6,353.2 L968.8,351.4 L968.0,353.9 L967.2,357.4 L966.4,350.8 L965.6,352.3 L964.8,354.2 L964.0,357.9 L963.2,354.9 L962.4,355.4 L961.6,352.0 L960.8,352.2 L960.0,354.0 L959.2,354.7 L958.4,355.5 L957.6,352.7 L956.8,354.0 L956.0,355.1 L955.2,355.4 L954.4,354.3 L953.6,357.0 L952.8,353.3 L952.0,353.7 L951.2,355.0 L950.4,353.8 L949.6,352.9 L948.8,355.4 L948.0,355.3 L947.2,359.1 L946.4,357.3 L945.6,360.6 L944.8,356.3 L944.0,354.9 L943.2,356.4 L942.4,357.6 L941.6,358.0 L940.8,360.4 L940.0,359.3 L939.2,357.4 L938.4,356.5 L937.6,358.5 L936.8,355.6 L936.0,355.4 L935.2,354.4 L934.4,352.3 L933.6,354.4 L932.8,355.3 L932.0,352.4 L931.2,350.7 L930.4,356.4 L929.6,347.8 L928.8,346.0 L928.0,347.9 L927.2,348.9 L926.4,345.9 L925.6,344.6 L924.8,341.8 L924.0,341.5 L923.2,342.8 L922.4,342.2 L921.6,339.0 L920.8,337.6 L920.0,336.5 L919.2,340.7 L918.4,336.9 L917.6,337.0 L916.8,340.6 L916.0,338.2 L915.2,334.3 L914.4,332.7 L913.6,335.9 L912.8,333.6 L912.0,334.9 L911.2,331.1 L910.4,334.8 L909.6,329.9 L908.8,331.7 L908.0,328.5 L907.2,328.8 L906.4,327.5 L905.6,326.5 L904.8,329.7 L904.0,326.8 L903.2,326.1 L902.4,325.1 L901.6,326.0 L900.8,323.8 L900.0,324.9 L899.2,323.9 L898.4,320.6 L897.6,320.9 L896.8,320.6 L896.0,321.5 L895.2,319.5 L894.4,325.9 L893.6,324.1 L892.8,324.1 L892.0,325.1 L891.2,325.1 L890.4,328.4 L889.6,328.3 L888.8,331.1 L888.0,331.3 L887.2,330.5 L886.4,333.2 L885.6,329.4 L884.8,332.4 L884.0,330.0 L883.2,333.1 L882.4,331.8 L881.6,327.9 L880.8,330.4 L880.0,328.7 L879.2,323.6 L878.4,322.9 L877.6,328.4 L876.8,327.7 L876.0,327.8 L875.2,327.1 L874.4,328.3 L873.6,340.5 L872.8,334.4 L872.0,340.1 L871.2,337.6 L870.4,340.7 L869.6,340.2 L868.8,340.8 L868.0,342.4 L867.2,346.6 L866.4,343.5 L865.6,343.6 L864.8,343.0 L864.0,344.6 L863.2,345.0 L862.4,343.2 L861.6,345.2 L860.8,345.4 L860.0,341.8 L859.2,342.0 L858.4,345.5 L857.6,341.3 L856.8,344.0 L856.0,340.6 L855.2,339.3 L854.4,338.6 L853.6,338.6 L852.8,343.8 L852.0,343.9 L851.2,343.2 L850.4,343.6 L849.6,343.4 L848.8,348.6 L848.0,345.9 L847.2,347.6 L846.4,349.6 L845.6,347.0 L844.8,346.9 L844.0,351.0 L843.2,354.8 L842.4,349.7 L841.6,353.2 L840.8,352.9 L840.0,351.7 L839.2,350.0 L838.4,353.0 L837.6,352.5 L836.8,352.0 L836.0,354.7 L835.2,351.7 L834.4,354.9 L833.6,355.4 L832.8,354.1 L832.0,356.3 L831.2,358.5 L830.4,352.7 L829.6,355.0 L828.8,359.2 L828.0,357.3 L827.2,357.1 L826.4,358.5 L825.6,361.7 L824.8,360.5 L824.0,356.3 L823.2,356.9 L822.4,355.7 L821.6,358.1 L820.8,360.0 L820.0,357.0 L819.2,359.4 L818.4,356.3 L817.6,357.9 L816.8,356.8 L816.0,357.2 L815.2,361.4 L814.4,361.3 L813.6,359.9 L812.8,358.5 L812.0,358.3 L811.2,361.2 L810.4,360.0 L809.6,360.2 L808.8,362.5 L808.0,360.9 L807.2,358.0 L806.4,360.4 L805.6,361.4 L804.8,358.7 L804.0,358.6 L803.2,356.2 L802.4,357.8 L801.6,359.4 L800.8,362.4 L800.0,358.6 L799.2,357.8 L798.4,357.3 L797.6,358.0 L796.8,360.6 L796.0,360.3 L795.2,362.2 L794.4,361.4 L793.6,359.7 L792.8,359.9 L792.0,361.4 L791.2,364.9 L790.4,364.2 L789.6,364.4 L788.8,368.1 L788.0,365.5 L787.2,363.4 L786.4,363.7 L785.6,362.4 L784.8,363.2 L784.0,362.9 L783.2,361.4 L782.4,361.6 L781.6,362.0 L780.8,362.5 L780.0,361.5 L779.2,363.9 L778.4,361.4 L777.6,362.9 L776.8,360.2 L776.0,360.4 L775.2,358.5 L774.4,361.0 L773.6,363.6 L772.8,361.2 L772.0,363.5 L771.2,363.7 L770.4,367.1 L769.6,363.8 L768.8,362.2 L768.0,366.3 L767.2,364.0 L766.4,366.3 L765.6,365.1 L764.8,365.9 L764.0,371.3 L763.2,367.7 L762.4,374.3 L761.6,374.1 L760.8,374.6 L760.0,374.0 L759.2,379.6 L758.4,375.0 L757.6,374.2 L756.8,374.7 L756.0,377.0 L755.2,372.5 L754.4,372.1 L753.6,374.9 L752.8,370.7 L752.0,373.8 L751.2,371.2 L750.4,373.4 L749.6,369.9 L748.8,369.6 L748.0,371.9 L747.2,368.7 L746.4,370.3 L745.6,369.7 L744.8,369.6 L744.0,369.9 L743.2,372.9 L742.4,372.2 L741.6,373.6 L740.8,374.1 L740.0,370.9 L739.2,371.3 L738.4,371.8 L737.6,373.8 L736.8,371.9 L736.0,372.5 L735.2,373.1 L734.4,372.4 L733.6,375.8 L732.8,375.5 L732.0,381.5 L731.2,378.3 L730.4,377.5 L729.6,378.0 L728.8,377.1 L728.0,380.7 L727.2,379.0 L726.4,377.0 L725.6,381.0 L724.8,375.8 L724.0,379.7 L723.2,377.2 L722.4,377.5 L721.6,377.2 L720.8,382.7 L720.0,381.6 L719.2,375.9 L718.4,378.9 L717.6,375.7 L716.8,376.4 L716.0,378.1 L715.2,378.4 L714.4,375.9 L713.6,378.8 L712.8,377.0 L712.0,376.1 L711.2,376.0 L710.4,378.7 L709.6,375.2 L708.8,373.9 L708.0,380.7 L707.2,379.9 L706.4,376.0 L705.6,378.9 L704.8,377.7 L704.0,380.0 L703.2,376.8 L702.4,379.1 L701.6,375.5 L700.8,379.3 L700.0,379.8 L699.2,380.7 L698.4,376.7 L697.6,376.6 L696.8,376.7 L696.0,378.4 L695.2,376.4 L694.4,375.2 L693.6,371.8 L692.8,366.0 L692.0,365.6 L691.2,367.9 L690.4,369.7 L689.6,370.8 L688.8,373.9 L688.0,373.3 L687.2,374.8 L686.4,377.7 L685.6,378.5 L684.8,382.4 L684.0,377.1 L683.2,377.3 L682.4,380.7 L681.6,380.2 L680.8,381.9 L680.0,381.7 L679.2,384.7 L678.4,383.8 L677.6,381.7 L676.8,386.1 L676.0,384.1 L675.2,384.6 L674.4,380.8 L673.6,382.0 L672.8,381.7 L672.0,380.0 L671.2,379.9 L670.4,381.0 L669.6,379.2 L668.8,381.3 L668.0,380.1 L667.2,381.5 L666.4,380.7 L665.6,380.6 L664.8,384.4 L664.0,383.8 L663.2,383.6 L662.4,382.6 L661.6,380.1 L660.8,381.7 L660.0,380.6 L659.2,380.5 L658.4,379.8 L657.6,381.0 L656.8,378.6 L656.0,379.7 L655.2,384.0 L654.4,385.2 L653.6,380.5 L652.8,382.1 L652.0,378.5 L651.2,380.3 L650.4,374.2 L649.6,380.4 L648.8,376.4 L648.0,377.8 L647.2,377.8 L646.4,379.3 L645.6,382.0Z" fill="#bf00bf" stroke="#bf00bf" stroke-width="0.5" stroke-linejoin="round"/>
</g>
<rect x="645.6" y="108.4" width="375.4" height="277.9" fill="none" stroke="#333" stroke-width="1"/>
<path d="M645.6,386.3v4M705.6,386.3v4M765.6,386.3v4M825.6,386.3v4M885.6,386.3v4M945.6,386.3v4M1005.6,386.3v4M645.6,123.7h-4M645.6,154.6h-4M645.6,185.6h-4M645.6,216.5h-4M645.6,247.4h-4M645.6,278.3h-4M645.6,309.3h-4M645.6,340.2h-4M645.6,371.1h-4" stroke="#262626" stroke-width="1.1" fill="none"/>
<text class="dj" x="645.9" y="402.9" text-anchor="middle" style="font-size:10.0px">0</text>
<text class="dj" x="705.9" y="402.9" text-anchor="middle" style="font-size:10.0px">1</text>
<text class="dj" x="765.9" y="402.9" text-anchor="middle" style="font-size:10.0px">2</text>
<text class="dj" x="825.9" y="402.9" text-anchor="middle" style="font-size:10.0px">3</text>
<text class="dj" x="885.9" y="402.9" text-anchor="middle" style="font-size:10.0px">4</text>
<text class="dj" x="945.9" y="402.9" text-anchor="middle" style="font-size:10.0px">5</text>
<text class="dj" x="1005.9" y="402.9" text-anchor="middle" style="font-size:10.0px">6</text>
<text class="dj" x="636.5" y="127.4" text-anchor="end" style="font-size:10.0px">−10</text>
<text class="dj" x="636.5" y="158.3" text-anchor="end" style="font-size:10.0px">−20</text>
<text class="dj" x="636.5" y="189.3" text-anchor="end" style="font-size:10.0px">−30</text>
<text class="dj" x="636.5" y="220.2" text-anchor="end" style="font-size:10.0px">−40</text>
<text class="dj" x="636.5" y="251.1" text-anchor="end" style="font-size:10.0px">−50</text>
<text class="dj" x="636.5" y="282.1" text-anchor="end" style="font-size:10.0px">−60</text>
<text class="dj" x="636.5" y="313.0" text-anchor="end" style="font-size:10.0px">−70</text>
<text class="dj" x="636.5" y="343.9" text-anchor="end" style="font-size:10.0px">−80</text>
<text class="dj" x="636.5" y="374.8" text-anchor="end" style="font-size:10.0px">−90</text>
<text class="dj" x="832.8" y="416.6" text-anchor="middle" style="font-size:10.40px">Freq(Hz)</text>
<text class="dj" x="1020.6" y="415.6" text-anchor="end" style="font-size:10.0px">1e10</text>
<text class="dj" transform="translate(608.4,249.2) rotate(-90)" text-anchor="middle" style="font-size:9.9px">Power(dBm)</text>
<text class="dj" x="682.3" y="382.1" style="font-size:7.2px" fill="#111">Magenta is contour of specA noise</text>
<path d="M142.8,382V204.5H185.7V382" fill="none" stroke="#c00000" stroke-width="2.2" stroke-dasharray="2.25 2.5"/><path d="M142.8,382H185.7" fill="none" stroke="#c00000" stroke-width="2" stroke-dasharray="2.25 2.5"/><path d="M242.0,382V204.5H284.9V382" fill="none" stroke="#c00000" stroke-width="2.2" stroke-dasharray="2.25 2.5"/><path d="M242.0,382H284.9" fill="none" stroke="#c00000" stroke-width="2" stroke-dasharray="2.25 2.5"/><rect x="343" y="218.5" width="43.2" height="163.8" fill="none" stroke="#ff0000" stroke-width="2"/><path d="M719.6,382V197.6H762.3V382" fill="none" stroke="#c00000" stroke-width="2.2" stroke-dasharray="2.25 2.5"/><path d="M719.6,382H762.3" fill="none" stroke="#c00000" stroke-width="2" stroke-dasharray="2.25 2.5"/><path d="M812.1,382V197.6H854.6V382" fill="none" stroke="#c00000" stroke-width="2.2" stroke-dasharray="2.25 2.5"/><path d="M812.1,382H854.6" fill="none" stroke="#c00000" stroke-width="2" stroke-dasharray="2.25 2.5"/><rect x="905.6" y="219.7" width="42.6" height="163.3" fill="none" stroke="#ff0000" stroke-width="2"/><g stroke="#10a850" fill="#10a850" stroke-linejoin="round"><path d="M939.8,238V284" stroke-width="1.8" fill="none"/><path d="M939.8,233.2L936.5,239.8L943.1,239.800Z M939.8,288.800L936.500,282.200L943.100,282.200Z" stroke-width="0.8"/><path d="M749.4,252V260.500" stroke-width="1.4" fill="none"/><path d="M749.4,250.2L746.8,253.9L752,253.900Z M749.400,262.300L746.800,258.600L752,258.600Z" stroke-width="0.6"/></g>
<!-- annotations left -->
<text class="ar" x="320.3" y="127.8" style="font-size:13.2px">F<tspan dy="2.6" style="font-size:8.6px">sig</tspan><tspan dy="-2.6">=976MHz</tspan></text>
<text class="ar" x="320.3" y="143" style="font-size:13.2px;font-weight:bold;fill:#ff0000">ENOB=5.07</text>
<text class="ar" x="320.3" y="158.5" style="font-size:13.2px">Main Tone=-6.37dBm</text>
<text class="ar" x="358" y="377" style="font-size:16.55px">Spec-A noise</text>
<text class="ar" x="183.2" y="440.6" style="font-size:21.2px">Before Calibration</text>
<!-- annotations right -->
<text class="ar" x="880.6" y="128.8" style="font-size:13.2px">F<tspan dy="2.6" style="font-size:8.6px">sig</tspan><tspan dy="-2.6">=976MHz</tspan></text>
<text class="ar" x="880.6" y="143.7" style="font-size:13.2px;font-weight:bold;fill:#00b050">ENOB=7.07</text>
<text class="ar" x="880.6" y="159.3" style="font-size:13.2px">Main Tone=-6.82dBm</text>
<text class="ar" x="918.6" y="379.9" style="font-size:16.55px">Spec-A noise</text>
<text class="ar" x="955.5" y="270.3" style="font-size:21.5px;font-weight:bold;fill:#00b050">~18dB</text>
<text class="ar" x="778.5" y="437.8" style="font-size:21.1px">After Calibration</text>
<!-- watermark -->
<g fill="#9a9a9a" opacity="0.78">
<g id="wechat">
<path d="M729.6,392.4c-8.2,0-14.8,5.6-14.8,12.5c0,3.9,2.1,7.3,5.4,9.6l-1.5,4.4l5.2-2.7c1.8,0.6,3.7,0.9,5.7,0.9c0.5,0,1-0.02,1.5-0.06c-0.4-1.1-0.6-2.2-0.6-3.4c0-6.5,6.1-11.7,13.6-11.7c0.2,0,0.4,0,0.6,0.01C743.4,396.5,737.1,392.4,729.600,392.400z"/>
<path d="M755.6,413.7c0-5.6-5.6-10.200-12.500-10.200s-12.500,4.600-12.500,10.200s5.600,10.200,12.500,10.200c1.500,0,2.900-0.200,4.200-0.600l4.100,2.200l-1.200-3.600C753.600,420,755.600,417,755.600,413.700z"/>
<circle cx="724.6" cy="401.5" r="1.7" fill="#fff"/><circle cx="734.400" cy="401.500" r="1.700" fill="#fff"/>
<circle cx="739" cy="411" r="1.400" fill="#fff"/><circle cx="747.200" cy="411" r="1.400" fill="#fff"/>
</g>
<text x="764.3" y="419.8" style="font-family:'Liberation Sans','Noto Sans CJK SC',sans-serif;font-size:28.6px;letter-spacing:3.5px">公众号</text>
<text x="870.7" y="422.4" text-anchor="middle" style="font-family:'Liberation Sans','Noto Sans CJK SC',sans-serif;font-size:46px">·</text>
<text transform="translate(890.2,419.8) scale(0.87,1)" x="0" y="0" style="font-family:'Liberation Sans','Noto Sans CJK SC',sans-serif;font-size:31.2px" textLength="179.5" lengthAdjust="spacing">LatitudeDA</text>
</g>
</svg>
</body></html>
